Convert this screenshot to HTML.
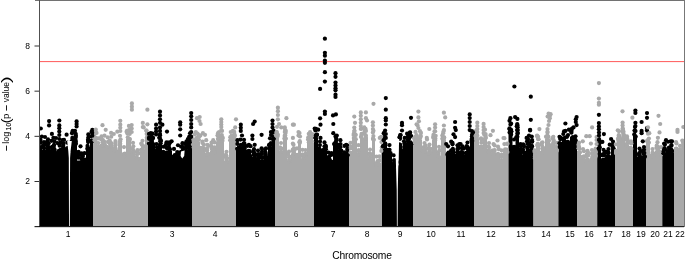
<!DOCTYPE html>
<html><head><meta charset="utf-8"><style>
html,body{margin:0;padding:0;background:#fff;}
body{width:685px;height:259px;overflow:hidden;position:relative;-webkit-font-smoothing:antialiased;font-family:"Liberation Sans",sans-serif;color:#000;}
svg{position:absolute;left:0;top:0;}
.xl{position:absolute;will-change:transform;top:229px;width:40px;text-align:center;font-size:8.5px;line-height:10px;}
.yl{position:absolute;will-change:transform;left:10px;width:20px;text-align:right;font-size:8.5px;line-height:10px;}
.xt{position:absolute;will-change:transform;left:0;width:724px;text-align:center;top:249.6px;font-size:10.3px;letter-spacing:-0.25px;line-height:12px;}
.yt{position:absolute;left:6px;top:112px;transform:translate(-50%,-50%) rotate(-90deg);white-space:nowrap;font-size:9px;line-height:10px;}
.yt sub{font-size:6.5px;vertical-align:-2px;line-height:0;}
</style></head><body>
<svg width="685" height="259" viewBox="0 0 685 259">
<line x1="40" y1="61.6" x2="684" y2="61.6" stroke="#ff5a5a" stroke-width="1"/>
<defs><clipPath id="c"><rect x="39.5" y="0.5" width="644.5" height="226"/></clipPath></defs>
<g clip-path="url(#c)"><polygon points="39,226.4 39,148.5 42,148.5 42,150.5 46,150.5 46,147.5 50,147.5 50,149.5 56,149.5 56,151.5 62,151.5 62,148.5 66,148.5 66,151.5 68.5,151.5 68.5,152.5 70.5,152.5 70.5,140.5 74.5,140.5 74.5,143.5 77,143.5 77,160.5 80,160.5 80,161.5 86,161.5 86,148.5 90,148.5 90,140.5 93,140.5 93,226.4" fill="#000"/><polygon points="93,226.4 93,140.5 97,140.5 97,147.1 100,147.1 100,144.5 106,144.5 106,145.5 113,145.5 113,149.5 118,149.5 118,144.5 122,144.5 122,155.5 126,155.5 126,138.5 131,138.5 131,151.0 135,151.0 135,158.5 140,158.5 140,149.5 145,149.5 145,139.5 148,139.5 148,226.4" fill="#a9a9a9"/><polygon points="148,226.4 148,142.5 150,142.5 150,142.5 155,142.5 155,152.5 158,152.5 158,143.5 162,143.5 162,155.5 165,155.5 165,151.0 168,151.0 168,151.0 172,151.0 172,157.5 176,157.5 176,153.5 180,153.5 180,151.5 185,151.5 185,149.5 188,149.5 188,141.5 192,141.5 192,226.4" fill="#000"/><polygon points="192,226.4 192,147.9 195,147.9 195,141.7 200,141.7 200,149.5 205,149.5 205,153.3 210,153.3 210,151.0 216,151.0 216,141.5 220,141.5 220,139.5 224,139.5 224,160.5 229,160.5 229,140.5 236,140.5 236,226.4" fill="#a9a9a9"/><polygon points="236,226.4 236,148.5 242,148.5 242,148.5 246,148.5 246,154.5 252,154.5 252,157.1 256,157.1 256,158.7 260,158.7 260,160.2 264,160.2 264,157.1 268,157.1 268,147.1 272,147.1 272,138.5 275,138.5 275,226.4" fill="#000"/><polygon points="275,226.4 275,135.5 279,135.5 279,151.0 283,151.0 283,138.5 287,138.5 287,160.2 291,160.2 291,153.3 296,153.3 296,157.1 298,157.1 298,141.7 301,141.7 301,158.7 307,158.7 307,142.5 314,142.5 314,226.4" fill="#a9a9a9"/><polygon points="314,226.4 314,137.5 318,137.5 318,149.5 322,149.5 322,151.0 327,151.0 327,161.0 333,161.0 333,144.8 338,144.8 338,152.5 343,152.5 343,154.0 349,154.0 349,226.4" fill="#000"/><polygon points="349,226.4 349,151.5 352,151.5 352,139.5 357,139.5 357,153.5 360,153.5 360,136.5 363,136.5 363,137.5 368,137.5 368,158.5 372,158.5 372,139.5 375,139.5 375,164.9 381,164.9 381,150.5 382,150.5 382,226.4" fill="#a9a9a9"/><polygon points="382,226.4 382,145.5 387,145.5 387,153.3 392,153.3 392,163.3 395.5,163.3 395.5,170.5 398.5,170.5 398.5,143.5 402,143.5 402,149.5 406,149.5 406,144.8 413,144.8 413,226.4" fill="#000"/><polygon points="413,226.4 413,140.5 418,140.5 418,140.1 422,140.1 422,151.0 427,151.0 427,152.5 432,152.5 432,139.5 437,139.5 437,155.5 441,155.5 441,139.5 446,139.5 446,226.4" fill="#a9a9a9"/><polygon points="446,226.4 446,154.8 450,154.8 450,152.5 455,152.5 455,154.0 460,154.0 460,154.5 465,154.5 465,151.0 470,151.0 470,139.5 474,139.5 474,226.4" fill="#000"/><polygon points="474,226.4 474,138.5 479,138.5 479,146.3 483,146.3 483,138.5 487,138.5 487,151.0 491,151.0 491,152.5 496,152.5 496,155.5 500,155.5 500,158.5 503,158.5 503,152.5 508.5,152.5 508.5,226.4" fill="#a9a9a9"/><polygon points="508.5,226.4 508.5,132.5 512.5,132.5 512.5,147.5 515.5,147.5 515.5,132.5 519,132.5 519,152.5 522,152.5 522,154.5 526,154.5 526,148.5 530,148.5 530,145.5 533.5,145.5 533.5,226.4" fill="#000"/><polygon points="533.5,226.4 533.5,158.5 536,158.5 536,144.8 540,144.8 540,151.0 545,151.0 545,140.1 550,140.1 550,146.3 555,146.3 555,151.0 558.4,151.0 558.4,226.4" fill="#a9a9a9"/><polygon points="558.4,226.4 558.4,147.9 562,147.9 562,140.1 566,140.1 566,143.2 570,143.2 570,137.0 574,137.0 574,144.8 577,144.8 577,226.4" fill="#000"/><polygon points="577,226.4 577,151.0 581,151.0 581,157.1 585,157.1 585,159.5 590,159.5 590,158.7 594,158.7 594,157.1 597.2,157.1 597.2,226.4" fill="#a9a9a9"/><polygon points="597.2,226.4 597.2,147.9 601,147.9 601,158.5 606,158.5 606,157.1 611,157.1 611,150.5 615,150.5 615,226.4" fill="#000"/><polygon points="615,226.4 615,152.5 617,152.5 617,140.1 621,140.1 621,137.5 625,137.5 625,144.8 629,144.8 629,149.5 633,149.5 633,226.4" fill="#a9a9a9"/><polygon points="633,226.4 633,135.5 637,135.5 637,157.1 642,157.1 642,155.5 646,155.5 646,226.4" fill="#000"/><polygon points="646,226.4 646,141.7 650,141.7 650,157.1 655,157.1 655,151.0 660,151.0 660,155.5 662.3,155.5 662.3,226.4" fill="#a9a9a9"/><polygon points="662.3,226.4 662.3,152.5 666,152.5 666,150.2 674,150.2 674,226.4" fill="#000"/><polygon points="674,226.4 674,151.0 678,151.0 678,154.0 682,154.0 682,151.0 684,151.0 684,226.4" fill="#a9a9a9"/><circle cx="40.5" cy="139.92" r="2.1" fill="#000"/><circle cx="40.15" cy="147.96" r="2.1" fill="#000"/><circle cx="40.07" cy="147.19" r="2.1" fill="#000"/><circle cx="40.37" cy="142.63" r="2.1" fill="#000"/><circle cx="40.51" cy="142.25" r="2.1" fill="#000"/><circle cx="44.0" cy="142.03" r="2.1" fill="#000"/><circle cx="43.14" cy="145.13" r="2.1" fill="#000"/><circle cx="43.85" cy="151.03" r="2.1" fill="#000"/><circle cx="43.25" cy="146.66" r="2.1" fill="#000"/><circle cx="44.25" cy="151.71" r="2.1" fill="#000"/><circle cx="44.15" cy="148.17" r="2.1" fill="#000"/><circle cx="44.95" cy="144.43" r="2.1" fill="#000"/><circle cx="48.0" cy="139.46" r="2.1" fill="#000"/><circle cx="47.58" cy="142.82" r="2.1" fill="#000"/><circle cx="47.24" cy="144.44" r="2.1" fill="#000"/><circle cx="48.63" cy="143.22" r="2.1" fill="#000"/><circle cx="48.16" cy="146.88" r="2.1" fill="#000"/><circle cx="47.74" cy="146.27" r="2.1" fill="#000"/><circle cx="47.13" cy="141.66" r="2.1" fill="#000"/><circle cx="51.5" cy="140.81" r="2.1" fill="#000"/><circle cx="54.5" cy="141.28" r="2.1" fill="#000"/><circle cx="52.71" cy="146.49" r="2.1" fill="#000"/><circle cx="53.34" cy="147.6" r="2.1" fill="#000"/><circle cx="52.2" cy="149.84" r="2.1" fill="#000"/><circle cx="53.8" cy="145.86" r="2.1" fill="#000"/><circle cx="53.3" cy="148.12" r="2.1" fill="#000"/><circle cx="54.5" cy="149.45" r="2.1" fill="#000"/><circle cx="52.15" cy="150.89" r="2.1" fill="#000"/><circle cx="51.47" cy="147.33" r="2.1" fill="#000"/><circle cx="54.03" cy="144.91" r="2.1" fill="#000"/><circle cx="57.5" cy="143.09" r="2.1" fill="#000"/><circle cx="60.5" cy="142.64" r="2.1" fill="#000"/><circle cx="59.67" cy="151.66" r="2.1" fill="#000"/><circle cx="59.29" cy="152.31" r="2.1" fill="#000"/><circle cx="58.25" cy="151.24" r="2.1" fill="#000"/><circle cx="59.38" cy="150.49" r="2.1" fill="#000"/><circle cx="58.82" cy="152.11" r="2.1" fill="#000"/><circle cx="60.78" cy="149.75" r="2.1" fill="#000"/><circle cx="59.66" cy="145.68" r="2.1" fill="#000"/><circle cx="59.81" cy="150.93" r="2.1" fill="#000"/><circle cx="60.97" cy="152.0" r="2.1" fill="#000"/><circle cx="64.0" cy="139.88" r="2.1" fill="#000"/><circle cx="63.77" cy="148.07" r="2.1" fill="#000"/><circle cx="63.05" cy="146.66" r="2.1" fill="#000"/><circle cx="63.34" cy="143.49" r="2.1" fill="#000"/><circle cx="63.12" cy="148.68" r="2.1" fill="#000"/><circle cx="63.26" cy="144.9" r="2.1" fill="#000"/><circle cx="63.78" cy="149.29" r="2.1" fill="#000"/><circle cx="67.25" cy="142.68" r="2.1" fill="#000"/><circle cx="67.22" cy="150.28" r="2.1" fill="#000"/><circle cx="67.44" cy="151.99" r="2.1" fill="#000"/><circle cx="67.43" cy="148.18" r="2.1" fill="#000"/><circle cx="67.21" cy="148.87" r="2.1" fill="#000"/><circle cx="69.5" cy="144.48" r="2.1" fill="#000"/><circle cx="69.5" cy="147.89" r="2.1" fill="#000"/><circle cx="69.5" cy="148.75" r="2.1" fill="#000"/><circle cx="69.5" cy="150.83" r="2.1" fill="#000"/><circle cx="72.5" cy="132.19" r="2.1" fill="#000"/><circle cx="72.03" cy="133.33" r="2.1" fill="#000"/><circle cx="72.34" cy="137.95" r="2.1" fill="#000"/><circle cx="72.63" cy="141.74" r="2.1" fill="#000"/><circle cx="72.88" cy="139.05" r="2.1" fill="#000"/><circle cx="72.74" cy="140.12" r="2.1" fill="#000"/><circle cx="71.61" cy="141.45" r="2.1" fill="#000"/><circle cx="75.75" cy="135.38" r="2.1" fill="#000"/><circle cx="75.94" cy="143.86" r="2.1" fill="#000"/><circle cx="75.7" cy="141.19" r="2.1" fill="#000"/><circle cx="75.55" cy="142.85" r="2.1" fill="#000"/><circle cx="75.53" cy="137.78" r="2.1" fill="#000"/><circle cx="78.5" cy="151.81" r="2.1" fill="#000"/><circle cx="78.16" cy="157.71" r="2.1" fill="#000"/><circle cx="78.05" cy="153.06" r="2.1" fill="#000"/><circle cx="78.15" cy="155.28" r="2.1" fill="#000"/><circle cx="78.36" cy="154.0" r="2.1" fill="#000"/><circle cx="81.5" cy="153.47" r="2.1" fill="#000"/><circle cx="84.5" cy="153.21" r="2.1" fill="#000"/><circle cx="81.59" cy="157.94" r="2.1" fill="#000"/><circle cx="82.39" cy="158.91" r="2.1" fill="#000"/><circle cx="81.49" cy="162.16" r="2.1" fill="#000"/><circle cx="84.97" cy="159.69" r="2.1" fill="#000"/><circle cx="82.94" cy="156.06" r="2.1" fill="#000"/><circle cx="81.41" cy="158.73" r="2.1" fill="#000"/><circle cx="82.06" cy="162.04" r="2.1" fill="#000"/><circle cx="81.65" cy="154.94" r="2.1" fill="#000"/><circle cx="84.8" cy="160.14" r="2.1" fill="#000"/><circle cx="88.0" cy="139.75" r="2.1" fill="#000"/><circle cx="88.09" cy="142.03" r="2.1" fill="#000"/><circle cx="88.06" cy="149.88" r="2.1" fill="#000"/><circle cx="88.73" cy="148.24" r="2.1" fill="#000"/><circle cx="87.52" cy="145.93" r="2.1" fill="#000"/><circle cx="87.33" cy="148.71" r="2.1" fill="#000"/><circle cx="88.07" cy="148.75" r="2.1" fill="#000"/><circle cx="91.5" cy="131.93" r="2.1" fill="#000"/><circle cx="91.22" cy="140.94" r="2.1" fill="#000"/><circle cx="91.98" cy="141.18" r="2.1" fill="#000"/><circle cx="91.81" cy="140.98" r="2.1" fill="#000"/><circle cx="91.74" cy="136.69" r="2.1" fill="#000"/><circle cx="95.0" cy="132.12" r="2.1" fill="#a9a9a9"/><circle cx="94.71" cy="134.08" r="2.1" fill="#a9a9a9"/><circle cx="94.06" cy="137.19" r="2.1" fill="#a9a9a9"/><circle cx="94.52" cy="140.22" r="2.1" fill="#a9a9a9"/><circle cx="95.91" cy="138.55" r="2.1" fill="#a9a9a9"/><circle cx="95.87" cy="141.94" r="2.1" fill="#a9a9a9"/><circle cx="95.91" cy="137.91" r="2.1" fill="#a9a9a9"/><circle cx="98.5" cy="138.42" r="2.1" fill="#a9a9a9"/><circle cx="98.23" cy="142.99" r="2.1" fill="#a9a9a9"/><circle cx="98.2" cy="146.38" r="2.1" fill="#a9a9a9"/><circle cx="98.9" cy="147.71" r="2.1" fill="#a9a9a9"/><circle cx="98.48" cy="146.57" r="2.1" fill="#a9a9a9"/><circle cx="101.5" cy="136.4" r="2.1" fill="#a9a9a9"/><circle cx="104.5" cy="135.68" r="2.1" fill="#a9a9a9"/><circle cx="103.64" cy="145.5" r="2.1" fill="#a9a9a9"/><circle cx="104.13" cy="144.57" r="2.1" fill="#a9a9a9"/><circle cx="102.91" cy="140.2" r="2.1" fill="#a9a9a9"/><circle cx="104.16" cy="141.65" r="2.1" fill="#a9a9a9"/><circle cx="104.2" cy="145.85" r="2.1" fill="#a9a9a9"/><circle cx="102.58" cy="142.2" r="2.1" fill="#a9a9a9"/><circle cx="104.79" cy="144.42" r="2.1" fill="#a9a9a9"/><circle cx="101.68" cy="139.61" r="2.1" fill="#a9a9a9"/><circle cx="101.6" cy="145.48" r="2.1" fill="#a9a9a9"/><circle cx="107.75" cy="137.41" r="2.1" fill="#a9a9a9"/><circle cx="111.25" cy="136.75" r="2.1" fill="#a9a9a9"/><circle cx="111.13" cy="146.89" r="2.1" fill="#a9a9a9"/><circle cx="110.29" cy="142.8" r="2.1" fill="#a9a9a9"/><circle cx="109.74" cy="140.66" r="2.1" fill="#a9a9a9"/><circle cx="107.07" cy="146.84" r="2.1" fill="#a9a9a9"/><circle cx="110.25" cy="144.13" r="2.1" fill="#a9a9a9"/><circle cx="111.67" cy="143.45" r="2.1" fill="#a9a9a9"/><circle cx="111.36" cy="146.03" r="2.1" fill="#a9a9a9"/><circle cx="108.06" cy="141.93" r="2.1" fill="#a9a9a9"/><circle cx="108.46" cy="141.83" r="2.1" fill="#a9a9a9"/><circle cx="109.93" cy="142.0" r="2.1" fill="#a9a9a9"/><circle cx="115.5" cy="141.02" r="2.1" fill="#a9a9a9"/><circle cx="114.39" cy="150.5" r="2.1" fill="#a9a9a9"/><circle cx="115.06" cy="147.63" r="2.1" fill="#a9a9a9"/><circle cx="115.75" cy="150.47" r="2.1" fill="#a9a9a9"/><circle cx="115.26" cy="150.55" r="2.1" fill="#a9a9a9"/><circle cx="115.5" cy="148.16" r="2.1" fill="#a9a9a9"/><circle cx="115.57" cy="142.83" r="2.1" fill="#a9a9a9"/><circle cx="115.32" cy="145.25" r="2.1" fill="#a9a9a9"/><circle cx="114.01" cy="149.87" r="2.1" fill="#a9a9a9"/><circle cx="120.0" cy="135.77" r="2.1" fill="#a9a9a9"/><circle cx="119.95" cy="144.42" r="2.1" fill="#a9a9a9"/><circle cx="120.11" cy="141.59" r="2.1" fill="#a9a9a9"/><circle cx="120.04" cy="143.32" r="2.1" fill="#a9a9a9"/><circle cx="120.57" cy="139.34" r="2.1" fill="#a9a9a9"/><circle cx="120.12" cy="140.9" r="2.1" fill="#a9a9a9"/><circle cx="119.55" cy="144.71" r="2.1" fill="#a9a9a9"/><circle cx="124.0" cy="147.11" r="2.1" fill="#a9a9a9"/><circle cx="124.12" cy="155.63" r="2.1" fill="#a9a9a9"/><circle cx="124.82" cy="153.52" r="2.1" fill="#a9a9a9"/><circle cx="124.23" cy="153.98" r="2.1" fill="#a9a9a9"/><circle cx="124.02" cy="155.22" r="2.1" fill="#a9a9a9"/><circle cx="123.9" cy="154.17" r="2.1" fill="#a9a9a9"/><circle cx="123.96" cy="156.68" r="2.1" fill="#a9a9a9"/><circle cx="128.5" cy="130.3" r="2.1" fill="#a9a9a9"/><circle cx="129.63" cy="139.68" r="2.1" fill="#a9a9a9"/><circle cx="127.78" cy="137.35" r="2.1" fill="#a9a9a9"/><circle cx="129.83" cy="139.11" r="2.1" fill="#a9a9a9"/><circle cx="127.41" cy="133.54" r="2.1" fill="#a9a9a9"/><circle cx="128.33" cy="132.86" r="2.1" fill="#a9a9a9"/><circle cx="127.72" cy="132.87" r="2.1" fill="#a9a9a9"/><circle cx="129.01" cy="138.78" r="2.1" fill="#a9a9a9"/><circle cx="129.69" cy="133.93" r="2.1" fill="#a9a9a9"/><circle cx="133.0" cy="142.82" r="2.1" fill="#a9a9a9"/><circle cx="133.32" cy="146.3" r="2.1" fill="#a9a9a9"/><circle cx="133.77" cy="152.32" r="2.1" fill="#a9a9a9"/><circle cx="132.44" cy="152.24" r="2.1" fill="#a9a9a9"/><circle cx="132.8" cy="149.35" r="2.1" fill="#a9a9a9"/><circle cx="133.98" cy="151.56" r="2.1" fill="#a9a9a9"/><circle cx="132.32" cy="148.94" r="2.1" fill="#a9a9a9"/><circle cx="137.5" cy="150.12" r="2.1" fill="#a9a9a9"/><circle cx="137.02" cy="154.38" r="2.1" fill="#a9a9a9"/><circle cx="136.96" cy="158.4" r="2.1" fill="#a9a9a9"/><circle cx="136.06" cy="157.31" r="2.1" fill="#a9a9a9"/><circle cx="137.32" cy="151.81" r="2.1" fill="#a9a9a9"/><circle cx="136.99" cy="157.78" r="2.1" fill="#a9a9a9"/><circle cx="137.54" cy="152.73" r="2.1" fill="#a9a9a9"/><circle cx="138.96" cy="158.8" r="2.1" fill="#a9a9a9"/><circle cx="138.92" cy="153.32" r="2.1" fill="#a9a9a9"/><circle cx="142.5" cy="140.87" r="2.1" fill="#a9a9a9"/><circle cx="141.12" cy="149.75" r="2.1" fill="#a9a9a9"/><circle cx="141.81" cy="144.64" r="2.1" fill="#a9a9a9"/><circle cx="142.27" cy="150.51" r="2.1" fill="#a9a9a9"/><circle cx="143.46" cy="146.0" r="2.1" fill="#a9a9a9"/><circle cx="141.45" cy="150.56" r="2.1" fill="#a9a9a9"/><circle cx="142.71" cy="149.27" r="2.1" fill="#a9a9a9"/><circle cx="141.27" cy="143.62" r="2.1" fill="#a9a9a9"/><circle cx="143.06" cy="147.39" r="2.1" fill="#a9a9a9"/><circle cx="146.5" cy="130.67" r="2.1" fill="#a9a9a9"/><circle cx="146.94" cy="138.85" r="2.1" fill="#a9a9a9"/><circle cx="146.8" cy="134.03" r="2.1" fill="#a9a9a9"/><circle cx="146.86" cy="133.77" r="2.1" fill="#a9a9a9"/><circle cx="146.86" cy="137.6" r="2.1" fill="#a9a9a9"/><circle cx="149.0" cy="133.94" r="2.1" fill="#000"/><circle cx="149.0" cy="143.6" r="2.1" fill="#000"/><circle cx="149.0" cy="137.64" r="2.1" fill="#000"/><circle cx="149.0" cy="138.81" r="2.1" fill="#000"/><circle cx="152.5" cy="133.71" r="2.1" fill="#000"/><circle cx="151.48" cy="136.5" r="2.1" fill="#000"/><circle cx="151.61" cy="139.47" r="2.1" fill="#000"/><circle cx="151.92" cy="142.63" r="2.1" fill="#000"/><circle cx="151.87" cy="140.94" r="2.1" fill="#000"/><circle cx="151.53" cy="139.77" r="2.1" fill="#000"/><circle cx="151.05" cy="138.92" r="2.1" fill="#000"/><circle cx="151.05" cy="142.47" r="2.1" fill="#000"/><circle cx="152.65" cy="138.32" r="2.1" fill="#000"/><circle cx="156.5" cy="144.07" r="2.1" fill="#000"/><circle cx="156.93" cy="147.34" r="2.1" fill="#000"/><circle cx="156.82" cy="150.44" r="2.1" fill="#000"/><circle cx="156.5" cy="153.07" r="2.1" fill="#000"/><circle cx="156.39" cy="150.99" r="2.1" fill="#000"/><circle cx="160.0" cy="135.29" r="2.1" fill="#000"/><circle cx="160.96" cy="140.73" r="2.1" fill="#000"/><circle cx="160.66" cy="143.31" r="2.1" fill="#000"/><circle cx="160.27" cy="141.23" r="2.1" fill="#000"/><circle cx="159.7" cy="137.57" r="2.1" fill="#000"/><circle cx="159.26" cy="137.84" r="2.1" fill="#000"/><circle cx="160.48" cy="139.97" r="2.1" fill="#000"/><circle cx="163.5" cy="146.76" r="2.1" fill="#000"/><circle cx="163.08" cy="156.11" r="2.1" fill="#000"/><circle cx="163.87" cy="155.08" r="2.1" fill="#000"/><circle cx="163.28" cy="151.84" r="2.1" fill="#000"/><circle cx="163.29" cy="153.64" r="2.1" fill="#000"/><circle cx="166.5" cy="142.26" r="2.1" fill="#000"/><circle cx="166.45" cy="147.54" r="2.1" fill="#000"/><circle cx="166.96" cy="152.35" r="2.1" fill="#000"/><circle cx="166.55" cy="147.37" r="2.1" fill="#000"/><circle cx="166.97" cy="147.95" r="2.1" fill="#000"/><circle cx="170.0" cy="142.46" r="2.1" fill="#000"/><circle cx="169.0" cy="148.55" r="2.1" fill="#000"/><circle cx="169.95" cy="149.46" r="2.1" fill="#000"/><circle cx="169.4" cy="149.47" r="2.1" fill="#000"/><circle cx="169.01" cy="147.55" r="2.1" fill="#000"/><circle cx="169.18" cy="148.69" r="2.1" fill="#000"/><circle cx="169.08" cy="144.42" r="2.1" fill="#000"/><circle cx="174.0" cy="148.9" r="2.1" fill="#000"/><circle cx="173.47" cy="156.53" r="2.1" fill="#000"/><circle cx="174.06" cy="157.58" r="2.1" fill="#000"/><circle cx="174.32" cy="157.37" r="2.1" fill="#000"/><circle cx="174.76" cy="155.11" r="2.1" fill="#000"/><circle cx="173.65" cy="158.92" r="2.1" fill="#000"/><circle cx="173.3" cy="157.42" r="2.1" fill="#000"/><circle cx="178.0" cy="145.24" r="2.1" fill="#000"/><circle cx="177.09" cy="154.08" r="2.1" fill="#000"/><circle cx="178.78" cy="152.8" r="2.1" fill="#000"/><circle cx="178.47" cy="153.94" r="2.1" fill="#000"/><circle cx="177.28" cy="152.11" r="2.1" fill="#000"/><circle cx="178.01" cy="154.08" r="2.1" fill="#000"/><circle cx="178.61" cy="154.03" r="2.1" fill="#000"/><circle cx="182.5" cy="143.18" r="2.1" fill="#000"/><circle cx="183.68" cy="151.16" r="2.1" fill="#000"/><circle cx="183.08" cy="147.73" r="2.1" fill="#000"/><circle cx="181.09" cy="146.68" r="2.1" fill="#000"/><circle cx="182.08" cy="146.33" r="2.1" fill="#000"/><circle cx="183.51" cy="150.35" r="2.1" fill="#000"/><circle cx="182.88" cy="150.8" r="2.1" fill="#000"/><circle cx="183.04" cy="149.86" r="2.1" fill="#000"/><circle cx="181.01" cy="151.86" r="2.1" fill="#000"/><circle cx="186.5" cy="141.35" r="2.1" fill="#000"/><circle cx="186.5" cy="148.19" r="2.1" fill="#000"/><circle cx="186.66" cy="143.76" r="2.1" fill="#000"/><circle cx="186.74" cy="145.94" r="2.1" fill="#000"/><circle cx="186.07" cy="146.06" r="2.1" fill="#000"/><circle cx="190.0" cy="133.33" r="2.1" fill="#000"/><circle cx="189.41" cy="141.51" r="2.1" fill="#000"/><circle cx="190.95" cy="139.89" r="2.1" fill="#000"/><circle cx="189.77" cy="139.79" r="2.1" fill="#000"/><circle cx="190.37" cy="141.68" r="2.1" fill="#000"/><circle cx="190.23" cy="140.9" r="2.1" fill="#000"/><circle cx="189.15" cy="136.85" r="2.1" fill="#000"/><circle cx="193.5" cy="139.25" r="2.1" fill="#a9a9a9"/><circle cx="193.74" cy="144.81" r="2.1" fill="#a9a9a9"/><circle cx="193.57" cy="141.05" r="2.1" fill="#a9a9a9"/><circle cx="193.06" cy="144.49" r="2.1" fill="#a9a9a9"/><circle cx="193.67" cy="147.62" r="2.1" fill="#a9a9a9"/><circle cx="197.5" cy="133.48" r="2.1" fill="#a9a9a9"/><circle cx="196.87" cy="140.25" r="2.1" fill="#a9a9a9"/><circle cx="197.39" cy="139.89" r="2.1" fill="#a9a9a9"/><circle cx="196.36" cy="142.61" r="2.1" fill="#a9a9a9"/><circle cx="196.6" cy="143.08" r="2.1" fill="#a9a9a9"/><circle cx="198.81" cy="134.99" r="2.1" fill="#a9a9a9"/><circle cx="197.38" cy="142.19" r="2.1" fill="#a9a9a9"/><circle cx="198.9" cy="139.77" r="2.1" fill="#a9a9a9"/><circle cx="196.81" cy="137.73" r="2.1" fill="#a9a9a9"/><circle cx="202.5" cy="141.55" r="2.1" fill="#a9a9a9"/><circle cx="201.63" cy="148.5" r="2.1" fill="#a9a9a9"/><circle cx="201.43" cy="148.11" r="2.1" fill="#a9a9a9"/><circle cx="203.86" cy="144.68" r="2.1" fill="#a9a9a9"/><circle cx="203.46" cy="148.0" r="2.1" fill="#a9a9a9"/><circle cx="203.66" cy="149.29" r="2.1" fill="#a9a9a9"/><circle cx="201.69" cy="150.44" r="2.1" fill="#a9a9a9"/><circle cx="202.46" cy="142.98" r="2.1" fill="#a9a9a9"/><circle cx="201.01" cy="147.88" r="2.1" fill="#a9a9a9"/><circle cx="207.5" cy="144.85" r="2.1" fill="#a9a9a9"/><circle cx="206.91" cy="148.57" r="2.1" fill="#a9a9a9"/><circle cx="207.03" cy="150.31" r="2.1" fill="#a9a9a9"/><circle cx="208.52" cy="146.0" r="2.1" fill="#a9a9a9"/><circle cx="208.25" cy="153.9" r="2.1" fill="#a9a9a9"/><circle cx="206.36" cy="154.4" r="2.1" fill="#a9a9a9"/><circle cx="208.14" cy="154.26" r="2.1" fill="#a9a9a9"/><circle cx="206.87" cy="150.77" r="2.1" fill="#a9a9a9"/><circle cx="207.18" cy="154.79" r="2.1" fill="#a9a9a9"/><circle cx="211.5" cy="142.69" r="2.1" fill="#a9a9a9"/><circle cx="214.5" cy="142.46" r="2.1" fill="#a9a9a9"/><circle cx="212.71" cy="147.65" r="2.1" fill="#a9a9a9"/><circle cx="211.19" cy="145.78" r="2.1" fill="#a9a9a9"/><circle cx="214.34" cy="147.74" r="2.1" fill="#a9a9a9"/><circle cx="214.74" cy="147.41" r="2.1" fill="#a9a9a9"/><circle cx="212.06" cy="149.52" r="2.1" fill="#a9a9a9"/><circle cx="211.76" cy="148.48" r="2.1" fill="#a9a9a9"/><circle cx="214.82" cy="151.86" r="2.1" fill="#a9a9a9"/><circle cx="214.25" cy="150.33" r="2.1" fill="#a9a9a9"/><circle cx="214.65" cy="152.18" r="2.1" fill="#a9a9a9"/><circle cx="218.0" cy="133.15" r="2.1" fill="#a9a9a9"/><circle cx="218.44" cy="135.48" r="2.1" fill="#a9a9a9"/><circle cx="218.46" cy="139.58" r="2.1" fill="#a9a9a9"/><circle cx="218.51" cy="140.91" r="2.1" fill="#a9a9a9"/><circle cx="217.57" cy="135.47" r="2.1" fill="#a9a9a9"/><circle cx="218.85" cy="136.61" r="2.1" fill="#a9a9a9"/><circle cx="217.94" cy="138.74" r="2.1" fill="#a9a9a9"/><circle cx="222.0" cy="130.9" r="2.1" fill="#a9a9a9"/><circle cx="222.48" cy="140.87" r="2.1" fill="#a9a9a9"/><circle cx="221.52" cy="138.99" r="2.1" fill="#a9a9a9"/><circle cx="221.6" cy="138.34" r="2.1" fill="#a9a9a9"/><circle cx="221.79" cy="135.08" r="2.1" fill="#a9a9a9"/><circle cx="221.32" cy="135.51" r="2.1" fill="#a9a9a9"/><circle cx="222.81" cy="137.92" r="2.1" fill="#a9a9a9"/><circle cx="226.5" cy="151.82" r="2.1" fill="#a9a9a9"/><circle cx="227.72" cy="161.98" r="2.1" fill="#a9a9a9"/><circle cx="226.35" cy="155.76" r="2.1" fill="#a9a9a9"/><circle cx="225.58" cy="155.13" r="2.1" fill="#a9a9a9"/><circle cx="226.03" cy="155.14" r="2.1" fill="#a9a9a9"/><circle cx="225.72" cy="157.0" r="2.1" fill="#a9a9a9"/><circle cx="226.71" cy="161.38" r="2.1" fill="#a9a9a9"/><circle cx="227.25" cy="158.29" r="2.1" fill="#a9a9a9"/><circle cx="226.24" cy="159.11" r="2.1" fill="#a9a9a9"/><circle cx="230.75" cy="131.98" r="2.1" fill="#a9a9a9"/><circle cx="234.25" cy="131.94" r="2.1" fill="#a9a9a9"/><circle cx="230.31" cy="137.17" r="2.1" fill="#a9a9a9"/><circle cx="234.84" cy="135.6" r="2.1" fill="#a9a9a9"/><circle cx="232.52" cy="139.82" r="2.1" fill="#a9a9a9"/><circle cx="234.31" cy="136.59" r="2.1" fill="#a9a9a9"/><circle cx="231.36" cy="136.9" r="2.1" fill="#a9a9a9"/><circle cx="232.0" cy="138.54" r="2.1" fill="#a9a9a9"/><circle cx="234.77" cy="141.16" r="2.1" fill="#a9a9a9"/><circle cx="234.36" cy="133.91" r="2.1" fill="#a9a9a9"/><circle cx="230.16" cy="140.33" r="2.1" fill="#a9a9a9"/><circle cx="234.48" cy="138.75" r="2.1" fill="#a9a9a9"/><circle cx="237.5" cy="140.19" r="2.1" fill="#000"/><circle cx="240.5" cy="139.6" r="2.1" fill="#000"/><circle cx="238.57" cy="149.6" r="2.1" fill="#000"/><circle cx="240.3" cy="149.2" r="2.1" fill="#000"/><circle cx="240.89" cy="144.9" r="2.1" fill="#000"/><circle cx="237.44" cy="143.93" r="2.1" fill="#000"/><circle cx="239.09" cy="148.15" r="2.1" fill="#000"/><circle cx="240.77" cy="148.4" r="2.1" fill="#000"/><circle cx="239.59" cy="148.66" r="2.1" fill="#000"/><circle cx="238.83" cy="147.3" r="2.1" fill="#000"/><circle cx="237.16" cy="148.77" r="2.1" fill="#000"/><circle cx="244.0" cy="139.83" r="2.1" fill="#000"/><circle cx="244.84" cy="147.92" r="2.1" fill="#000"/><circle cx="243.61" cy="143.62" r="2.1" fill="#000"/><circle cx="243.5" cy="147.86" r="2.1" fill="#000"/><circle cx="244.4" cy="143.42" r="2.1" fill="#000"/><circle cx="243.14" cy="147.11" r="2.1" fill="#000"/><circle cx="244.17" cy="146.1" r="2.1" fill="#000"/><circle cx="247.5" cy="145.82" r="2.1" fill="#000"/><circle cx="250.5" cy="146.2" r="2.1" fill="#000"/><circle cx="247.04" cy="151.38" r="2.1" fill="#000"/><circle cx="248.84" cy="155.78" r="2.1" fill="#000"/><circle cx="249.58" cy="155.36" r="2.1" fill="#000"/><circle cx="248.9" cy="150.77" r="2.1" fill="#000"/><circle cx="247.99" cy="155.79" r="2.1" fill="#000"/><circle cx="249.82" cy="151.43" r="2.1" fill="#000"/><circle cx="247.09" cy="152.93" r="2.1" fill="#000"/><circle cx="249.7" cy="152.35" r="2.1" fill="#000"/><circle cx="248.03" cy="154.06" r="2.1" fill="#000"/><circle cx="254.0" cy="149.13" r="2.1" fill="#000"/><circle cx="253.45" cy="150.79" r="2.1" fill="#000"/><circle cx="253.68" cy="154.95" r="2.1" fill="#000"/><circle cx="254.37" cy="153.01" r="2.1" fill="#000"/><circle cx="254.59" cy="157.11" r="2.1" fill="#000"/><circle cx="254.01" cy="153.08" r="2.1" fill="#000"/><circle cx="254.94" cy="154.07" r="2.1" fill="#000"/><circle cx="258.0" cy="150.62" r="2.1" fill="#000"/><circle cx="257.46" cy="154.84" r="2.1" fill="#000"/><circle cx="258.52" cy="155.53" r="2.1" fill="#000"/><circle cx="258.9" cy="157.11" r="2.1" fill="#000"/><circle cx="257.37" cy="154.86" r="2.1" fill="#000"/><circle cx="257.83" cy="158.25" r="2.1" fill="#000"/><circle cx="258.9" cy="154.04" r="2.1" fill="#000"/><circle cx="262.0" cy="151.69" r="2.1" fill="#000"/><circle cx="261.43" cy="161.56" r="2.1" fill="#000"/><circle cx="261.28" cy="154.22" r="2.1" fill="#000"/><circle cx="261.12" cy="157.84" r="2.1" fill="#000"/><circle cx="262.8" cy="161.06" r="2.1" fill="#000"/><circle cx="262.47" cy="161.69" r="2.1" fill="#000"/><circle cx="262.86" cy="157.32" r="2.1" fill="#000"/><circle cx="266.0" cy="148.39" r="2.1" fill="#000"/><circle cx="266.87" cy="157.15" r="2.1" fill="#000"/><circle cx="265.06" cy="156.64" r="2.1" fill="#000"/><circle cx="265.76" cy="154.59" r="2.1" fill="#000"/><circle cx="265.66" cy="152.7" r="2.1" fill="#000"/><circle cx="265.01" cy="153.79" r="2.1" fill="#000"/><circle cx="265.7" cy="158.36" r="2.1" fill="#000"/><circle cx="270.0" cy="138.32" r="2.1" fill="#000"/><circle cx="270.93" cy="143.1" r="2.1" fill="#000"/><circle cx="269.71" cy="147.6" r="2.1" fill="#000"/><circle cx="270.64" cy="145.04" r="2.1" fill="#000"/><circle cx="269.1" cy="145.35" r="2.1" fill="#000"/><circle cx="269.75" cy="148.16" r="2.1" fill="#000"/><circle cx="269.39" cy="144.51" r="2.1" fill="#000"/><circle cx="273.5" cy="130.5" r="2.1" fill="#000"/><circle cx="273.03" cy="136.28" r="2.1" fill="#000"/><circle cx="273.81" cy="138.67" r="2.1" fill="#000"/><circle cx="273.04" cy="132.2" r="2.1" fill="#000"/><circle cx="273.06" cy="139.56" r="2.1" fill="#000"/><circle cx="277.0" cy="126.86" r="2.1" fill="#a9a9a9"/><circle cx="277.49" cy="136.44" r="2.1" fill="#a9a9a9"/><circle cx="276.68" cy="132.12" r="2.1" fill="#a9a9a9"/><circle cx="277.92" cy="134.74" r="2.1" fill="#a9a9a9"/><circle cx="276.52" cy="135.37" r="2.1" fill="#a9a9a9"/><circle cx="276.63" cy="132.15" r="2.1" fill="#a9a9a9"/><circle cx="276.01" cy="135.61" r="2.1" fill="#a9a9a9"/><circle cx="281.0" cy="143.02" r="2.1" fill="#a9a9a9"/><circle cx="281.27" cy="152.19" r="2.1" fill="#a9a9a9"/><circle cx="280.05" cy="147.26" r="2.1" fill="#a9a9a9"/><circle cx="280.95" cy="152.26" r="2.1" fill="#a9a9a9"/><circle cx="281.91" cy="148.59" r="2.1" fill="#a9a9a9"/><circle cx="280.5" cy="148.92" r="2.1" fill="#a9a9a9"/><circle cx="280.99" cy="152.11" r="2.1" fill="#a9a9a9"/><circle cx="285.0" cy="129.78" r="2.1" fill="#a9a9a9"/><circle cx="285.61" cy="138.5" r="2.1" fill="#a9a9a9"/><circle cx="285.65" cy="138.71" r="2.1" fill="#a9a9a9"/><circle cx="285.21" cy="135.61" r="2.1" fill="#a9a9a9"/><circle cx="284.64" cy="135.89" r="2.1" fill="#a9a9a9"/><circle cx="285.56" cy="132.96" r="2.1" fill="#a9a9a9"/><circle cx="284.39" cy="138.59" r="2.1" fill="#a9a9a9"/><circle cx="289.0" cy="151.55" r="2.1" fill="#a9a9a9"/><circle cx="288.13" cy="153.88" r="2.1" fill="#a9a9a9"/><circle cx="289.11" cy="157.29" r="2.1" fill="#a9a9a9"/><circle cx="289.96" cy="161.06" r="2.1" fill="#a9a9a9"/><circle cx="289.98" cy="156.76" r="2.1" fill="#a9a9a9"/><circle cx="288.17" cy="154.91" r="2.1" fill="#a9a9a9"/><circle cx="289.0" cy="160.03" r="2.1" fill="#a9a9a9"/><circle cx="293.5" cy="144.85" r="2.1" fill="#a9a9a9"/><circle cx="292.7" cy="151.12" r="2.1" fill="#a9a9a9"/><circle cx="293.86" cy="152.9" r="2.1" fill="#a9a9a9"/><circle cx="294.24" cy="153.95" r="2.1" fill="#a9a9a9"/><circle cx="293.99" cy="148.34" r="2.1" fill="#a9a9a9"/><circle cx="294.52" cy="150.12" r="2.1" fill="#a9a9a9"/><circle cx="293.7" cy="150.78" r="2.1" fill="#a9a9a9"/><circle cx="294.21" cy="149.22" r="2.1" fill="#a9a9a9"/><circle cx="292.74" cy="149.67" r="2.1" fill="#a9a9a9"/><circle cx="297.0" cy="148.35" r="2.1" fill="#a9a9a9"/><circle cx="297.0" cy="156.08" r="2.1" fill="#a9a9a9"/><circle cx="297.0" cy="154.76" r="2.1" fill="#a9a9a9"/><circle cx="297.0" cy="155.59" r="2.1" fill="#a9a9a9"/><circle cx="299.5" cy="133.03" r="2.1" fill="#a9a9a9"/><circle cx="299.81" cy="141.17" r="2.1" fill="#a9a9a9"/><circle cx="299.99" cy="136.49" r="2.1" fill="#a9a9a9"/><circle cx="299.47" cy="142.18" r="2.1" fill="#a9a9a9"/><circle cx="299.84" cy="142.73" r="2.1" fill="#a9a9a9"/><circle cx="302.5" cy="149.84" r="2.1" fill="#a9a9a9"/><circle cx="305.5" cy="150.09" r="2.1" fill="#a9a9a9"/><circle cx="302.48" cy="154.52" r="2.1" fill="#a9a9a9"/><circle cx="305.89" cy="157.71" r="2.1" fill="#a9a9a9"/><circle cx="305.72" cy="156.17" r="2.1" fill="#a9a9a9"/><circle cx="305.46" cy="156.77" r="2.1" fill="#a9a9a9"/><circle cx="303.04" cy="158.94" r="2.1" fill="#a9a9a9"/><circle cx="305.78" cy="153.54" r="2.1" fill="#a9a9a9"/><circle cx="304.38" cy="157.96" r="2.1" fill="#a9a9a9"/><circle cx="302.87" cy="156.15" r="2.1" fill="#a9a9a9"/><circle cx="302.57" cy="154.67" r="2.1" fill="#a9a9a9"/><circle cx="308.75" cy="133.85" r="2.1" fill="#a9a9a9"/><circle cx="312.25" cy="134.2" r="2.1" fill="#a9a9a9"/><circle cx="311.26" cy="138.46" r="2.1" fill="#a9a9a9"/><circle cx="308.06" cy="139.6" r="2.1" fill="#a9a9a9"/><circle cx="311.39" cy="138.27" r="2.1" fill="#a9a9a9"/><circle cx="309.56" cy="138.46" r="2.1" fill="#a9a9a9"/><circle cx="311.98" cy="141.27" r="2.1" fill="#a9a9a9"/><circle cx="308.32" cy="137.28" r="2.1" fill="#a9a9a9"/><circle cx="309.98" cy="141.29" r="2.1" fill="#a9a9a9"/><circle cx="311.2" cy="137.14" r="2.1" fill="#a9a9a9"/><circle cx="308.82" cy="142.24" r="2.1" fill="#a9a9a9"/><circle cx="310.05" cy="139.22" r="2.1" fill="#a9a9a9"/><circle cx="316.0" cy="128.91" r="2.1" fill="#000"/><circle cx="316.91" cy="134.48" r="2.1" fill="#000"/><circle cx="316.13" cy="134.85" r="2.1" fill="#000"/><circle cx="315.83" cy="138.25" r="2.1" fill="#000"/><circle cx="316.99" cy="134.91" r="2.1" fill="#000"/><circle cx="315.39" cy="137.44" r="2.1" fill="#000"/><circle cx="315.41" cy="130.41" r="2.1" fill="#000"/><circle cx="320.0" cy="141.5" r="2.1" fill="#000"/><circle cx="319.85" cy="149.99" r="2.1" fill="#000"/><circle cx="319.81" cy="150.35" r="2.1" fill="#000"/><circle cx="319.92" cy="145.03" r="2.1" fill="#000"/><circle cx="319.03" cy="148.3" r="2.1" fill="#000"/><circle cx="320.28" cy="150.5" r="2.1" fill="#000"/><circle cx="319.18" cy="148.77" r="2.1" fill="#000"/><circle cx="324.5" cy="142.47" r="2.1" fill="#000"/><circle cx="324.51" cy="146.34" r="2.1" fill="#000"/><circle cx="323.85" cy="149.59" r="2.1" fill="#000"/><circle cx="325.78" cy="145.88" r="2.1" fill="#000"/><circle cx="324.47" cy="151.4" r="2.1" fill="#000"/><circle cx="325.9" cy="146.9" r="2.1" fill="#000"/><circle cx="323.38" cy="152.19" r="2.1" fill="#000"/><circle cx="325.93" cy="149.31" r="2.1" fill="#000"/><circle cx="323.16" cy="152.1" r="2.1" fill="#000"/><circle cx="328.5" cy="152.49" r="2.1" fill="#000"/><circle cx="331.5" cy="153.0" r="2.1" fill="#000"/><circle cx="330.48" cy="161.52" r="2.1" fill="#000"/><circle cx="328.64" cy="161.29" r="2.1" fill="#000"/><circle cx="328.89" cy="158.73" r="2.1" fill="#000"/><circle cx="331.39" cy="161.54" r="2.1" fill="#000"/><circle cx="328.73" cy="157.11" r="2.1" fill="#000"/><circle cx="329.6" cy="159.56" r="2.1" fill="#000"/><circle cx="329.53" cy="156.06" r="2.1" fill="#000"/><circle cx="328.99" cy="160.92" r="2.1" fill="#000"/><circle cx="331.59" cy="154.83" r="2.1" fill="#000"/><circle cx="335.5" cy="136.46" r="2.1" fill="#000"/><circle cx="336.27" cy="138.57" r="2.1" fill="#000"/><circle cx="336.51" cy="139.79" r="2.1" fill="#000"/><circle cx="335.8" cy="143.59" r="2.1" fill="#000"/><circle cx="335.88" cy="141.72" r="2.1" fill="#000"/><circle cx="335.26" cy="143.81" r="2.1" fill="#000"/><circle cx="335.28" cy="144.31" r="2.1" fill="#000"/><circle cx="335.34" cy="142.79" r="2.1" fill="#000"/><circle cx="334.07" cy="144.05" r="2.1" fill="#000"/><circle cx="340.5" cy="144.09" r="2.1" fill="#000"/><circle cx="339.71" cy="152.66" r="2.1" fill="#000"/><circle cx="341.34" cy="150.64" r="2.1" fill="#000"/><circle cx="339.54" cy="150.74" r="2.1" fill="#000"/><circle cx="339.32" cy="147.63" r="2.1" fill="#000"/><circle cx="340.29" cy="147.15" r="2.1" fill="#000"/><circle cx="340.33" cy="151.01" r="2.1" fill="#000"/><circle cx="339.12" cy="151.86" r="2.1" fill="#000"/><circle cx="339.25" cy="152.47" r="2.1" fill="#000"/><circle cx="344.5" cy="145.88" r="2.1" fill="#000"/><circle cx="347.5" cy="145.61" r="2.1" fill="#000"/><circle cx="344.22" cy="152.47" r="2.1" fill="#000"/><circle cx="345.51" cy="155.23" r="2.1" fill="#000"/><circle cx="344.54" cy="154.7" r="2.1" fill="#000"/><circle cx="347.98" cy="153.96" r="2.1" fill="#000"/><circle cx="347.26" cy="149.86" r="2.1" fill="#000"/><circle cx="347.93" cy="152.38" r="2.1" fill="#000"/><circle cx="347.83" cy="155.04" r="2.1" fill="#000"/><circle cx="344.66" cy="154.3" r="2.1" fill="#000"/><circle cx="347.72" cy="148.25" r="2.1" fill="#000"/><circle cx="350.5" cy="142.95" r="2.1" fill="#a9a9a9"/><circle cx="350.76" cy="146.98" r="2.1" fill="#a9a9a9"/><circle cx="350.9" cy="148.15" r="2.1" fill="#a9a9a9"/><circle cx="350.82" cy="146.81" r="2.1" fill="#a9a9a9"/><circle cx="350.5" cy="152.56" r="2.1" fill="#a9a9a9"/><circle cx="354.5" cy="130.81" r="2.1" fill="#a9a9a9"/><circle cx="353.79" cy="137.98" r="2.1" fill="#a9a9a9"/><circle cx="353.96" cy="133.24" r="2.1" fill="#a9a9a9"/><circle cx="353.55" cy="135.01" r="2.1" fill="#a9a9a9"/><circle cx="355.81" cy="139.14" r="2.1" fill="#a9a9a9"/><circle cx="355.69" cy="135.09" r="2.1" fill="#a9a9a9"/><circle cx="355.35" cy="134.46" r="2.1" fill="#a9a9a9"/><circle cx="354.59" cy="138.86" r="2.1" fill="#a9a9a9"/><circle cx="354.08" cy="140.3" r="2.1" fill="#a9a9a9"/><circle cx="358.5" cy="145.16" r="2.1" fill="#a9a9a9"/><circle cx="358.58" cy="154.35" r="2.1" fill="#a9a9a9"/><circle cx="358.1" cy="154.96" r="2.1" fill="#a9a9a9"/><circle cx="358.63" cy="151.15" r="2.1" fill="#a9a9a9"/><circle cx="358.8" cy="150.05" r="2.1" fill="#a9a9a9"/><circle cx="361.5" cy="128.59" r="2.1" fill="#a9a9a9"/><circle cx="361.58" cy="133.88" r="2.1" fill="#a9a9a9"/><circle cx="361.76" cy="134.52" r="2.1" fill="#a9a9a9"/><circle cx="361.18" cy="136.53" r="2.1" fill="#a9a9a9"/><circle cx="361.05" cy="136.99" r="2.1" fill="#a9a9a9"/><circle cx="365.5" cy="128.85" r="2.1" fill="#a9a9a9"/><circle cx="365.92" cy="138.91" r="2.1" fill="#a9a9a9"/><circle cx="365.76" cy="137.04" r="2.1" fill="#a9a9a9"/><circle cx="364.94" cy="130.2" r="2.1" fill="#a9a9a9"/><circle cx="364.1" cy="132.88" r="2.1" fill="#a9a9a9"/><circle cx="365.85" cy="135.44" r="2.1" fill="#a9a9a9"/><circle cx="365.54" cy="138.42" r="2.1" fill="#a9a9a9"/><circle cx="364.4" cy="133.7" r="2.1" fill="#a9a9a9"/><circle cx="365.96" cy="130.92" r="2.1" fill="#a9a9a9"/><circle cx="370.0" cy="149.6" r="2.1" fill="#a9a9a9"/><circle cx="369.71" cy="153.35" r="2.1" fill="#a9a9a9"/><circle cx="369.71" cy="154.67" r="2.1" fill="#a9a9a9"/><circle cx="370.17" cy="157.55" r="2.1" fill="#a9a9a9"/><circle cx="369.41" cy="157.78" r="2.1" fill="#a9a9a9"/><circle cx="369.95" cy="153.7" r="2.1" fill="#a9a9a9"/><circle cx="370.87" cy="154.86" r="2.1" fill="#a9a9a9"/><circle cx="373.5" cy="130.75" r="2.1" fill="#a9a9a9"/><circle cx="373.1" cy="138.87" r="2.1" fill="#a9a9a9"/><circle cx="373.87" cy="139.77" r="2.1" fill="#a9a9a9"/><circle cx="373.4" cy="136.05" r="2.1" fill="#a9a9a9"/><circle cx="373.01" cy="138.92" r="2.1" fill="#a9a9a9"/><circle cx="376.5" cy="156.56" r="2.1" fill="#a9a9a9"/><circle cx="379.5" cy="156.35" r="2.1" fill="#a9a9a9"/><circle cx="378.58" cy="162.93" r="2.1" fill="#a9a9a9"/><circle cx="379.75" cy="164.87" r="2.1" fill="#a9a9a9"/><circle cx="376.99" cy="165.87" r="2.1" fill="#a9a9a9"/><circle cx="376.18" cy="163.56" r="2.1" fill="#a9a9a9"/><circle cx="377.62" cy="161.2" r="2.1" fill="#a9a9a9"/><circle cx="376.23" cy="165.15" r="2.1" fill="#a9a9a9"/><circle cx="376.05" cy="163.69" r="2.1" fill="#a9a9a9"/><circle cx="379.76" cy="160.19" r="2.1" fill="#a9a9a9"/><circle cx="376.8" cy="164.08" r="2.1" fill="#a9a9a9"/><circle cx="381.5" cy="142.11" r="2.1" fill="#a9a9a9"/><circle cx="381.36" cy="150.95" r="2.1" fill="#a9a9a9"/><circle cx="381.83" cy="147.45" r="2.1" fill="#a9a9a9"/><circle cx="384.5" cy="136.9" r="2.1" fill="#000"/><circle cx="383.15" cy="146.39" r="2.1" fill="#000"/><circle cx="385.35" cy="145.36" r="2.1" fill="#000"/><circle cx="383.02" cy="146.13" r="2.1" fill="#000"/><circle cx="385.24" cy="143.69" r="2.1" fill="#000"/><circle cx="385.23" cy="143.59" r="2.1" fill="#000"/><circle cx="383.68" cy="140.33" r="2.1" fill="#000"/><circle cx="383.7" cy="139.28" r="2.1" fill="#000"/><circle cx="384.01" cy="145.57" r="2.1" fill="#000"/><circle cx="389.5" cy="145.1" r="2.1" fill="#000"/><circle cx="390.54" cy="153.14" r="2.1" fill="#000"/><circle cx="388.8" cy="152.11" r="2.1" fill="#000"/><circle cx="389.31" cy="153.6" r="2.1" fill="#000"/><circle cx="389.57" cy="149.86" r="2.1" fill="#000"/><circle cx="389.93" cy="154.61" r="2.1" fill="#000"/><circle cx="388.65" cy="154.14" r="2.1" fill="#000"/><circle cx="388.05" cy="149.81" r="2.1" fill="#000"/><circle cx="388.71" cy="153.34" r="2.1" fill="#000"/><circle cx="393.75" cy="155.34" r="2.1" fill="#000"/><circle cx="394.12" cy="160.4" r="2.1" fill="#000"/><circle cx="394.32" cy="160.42" r="2.1" fill="#000"/><circle cx="393.36" cy="164.29" r="2.1" fill="#000"/><circle cx="393.95" cy="163.02" r="2.1" fill="#000"/><circle cx="394.0" cy="164.69" r="2.1" fill="#000"/><circle cx="397.0" cy="162.07" r="2.1" fill="#000"/><circle cx="397.34" cy="170.25" r="2.1" fill="#000"/><circle cx="397.36" cy="168.48" r="2.1" fill="#000"/><circle cx="397.22" cy="169.43" r="2.1" fill="#000"/><circle cx="396.81" cy="166.55" r="2.1" fill="#000"/><circle cx="400.25" cy="135.22" r="2.1" fill="#000"/><circle cx="399.62" cy="144.51" r="2.1" fill="#000"/><circle cx="399.72" cy="137.03" r="2.1" fill="#000"/><circle cx="399.66" cy="144.61" r="2.1" fill="#000"/><circle cx="400.02" cy="138.79" r="2.1" fill="#000"/><circle cx="399.54" cy="137.34" r="2.1" fill="#000"/><circle cx="404.0" cy="141.29" r="2.1" fill="#000"/><circle cx="404.27" cy="149.25" r="2.1" fill="#000"/><circle cx="404.47" cy="143.76" r="2.1" fill="#000"/><circle cx="404.18" cy="146.9" r="2.1" fill="#000"/><circle cx="404.64" cy="149.99" r="2.1" fill="#000"/><circle cx="404.78" cy="143.76" r="2.1" fill="#000"/><circle cx="404.74" cy="150.53" r="2.1" fill="#000"/><circle cx="407.75" cy="136.84" r="2.1" fill="#000"/><circle cx="411.25" cy="136.01" r="2.1" fill="#000"/><circle cx="408.03" cy="139.72" r="2.1" fill="#000"/><circle cx="407.17" cy="145.45" r="2.1" fill="#000"/><circle cx="411.06" cy="144.15" r="2.1" fill="#000"/><circle cx="411.13" cy="144.13" r="2.1" fill="#000"/><circle cx="408.44" cy="139.56" r="2.1" fill="#000"/><circle cx="407.49" cy="144.92" r="2.1" fill="#000"/><circle cx="408.02" cy="141.84" r="2.1" fill="#000"/><circle cx="409.12" cy="138.18" r="2.1" fill="#000"/><circle cx="408.28" cy="141.52" r="2.1" fill="#000"/><circle cx="410.58" cy="142.24" r="2.1" fill="#000"/><circle cx="415.5" cy="131.92" r="2.1" fill="#a9a9a9"/><circle cx="416.89" cy="138.96" r="2.1" fill="#a9a9a9"/><circle cx="416.55" cy="139.74" r="2.1" fill="#a9a9a9"/><circle cx="414.09" cy="138.29" r="2.1" fill="#a9a9a9"/><circle cx="415.31" cy="140.71" r="2.1" fill="#a9a9a9"/><circle cx="415.04" cy="140.3" r="2.1" fill="#a9a9a9"/><circle cx="415.61" cy="136.59" r="2.1" fill="#a9a9a9"/><circle cx="416.59" cy="135.13" r="2.1" fill="#a9a9a9"/><circle cx="416.46" cy="136.11" r="2.1" fill="#a9a9a9"/><circle cx="420.0" cy="131.2" r="2.1" fill="#a9a9a9"/><circle cx="419.4" cy="140.25" r="2.1" fill="#a9a9a9"/><circle cx="420.96" cy="132.95" r="2.1" fill="#a9a9a9"/><circle cx="419.98" cy="138.48" r="2.1" fill="#a9a9a9"/><circle cx="420.59" cy="135.86" r="2.1" fill="#a9a9a9"/><circle cx="419.99" cy="137.37" r="2.1" fill="#a9a9a9"/><circle cx="420.66" cy="136.62" r="2.1" fill="#a9a9a9"/><circle cx="424.5" cy="143.04" r="2.1" fill="#a9a9a9"/><circle cx="423.85" cy="147.08" r="2.1" fill="#a9a9a9"/><circle cx="425.1" cy="149.43" r="2.1" fill="#a9a9a9"/><circle cx="423.33" cy="150.36" r="2.1" fill="#a9a9a9"/><circle cx="423.24" cy="151.3" r="2.1" fill="#a9a9a9"/><circle cx="425.09" cy="151.29" r="2.1" fill="#a9a9a9"/><circle cx="424.88" cy="148.34" r="2.1" fill="#a9a9a9"/><circle cx="424.2" cy="148.65" r="2.1" fill="#a9a9a9"/><circle cx="425.67" cy="145.57" r="2.1" fill="#a9a9a9"/><circle cx="429.5" cy="144.49" r="2.1" fill="#a9a9a9"/><circle cx="428.08" cy="148.49" r="2.1" fill="#a9a9a9"/><circle cx="428.79" cy="153.46" r="2.1" fill="#a9a9a9"/><circle cx="429.5" cy="150.03" r="2.1" fill="#a9a9a9"/><circle cx="430.65" cy="148.76" r="2.1" fill="#a9a9a9"/><circle cx="429.38" cy="151.16" r="2.1" fill="#a9a9a9"/><circle cx="430.26" cy="152.59" r="2.1" fill="#a9a9a9"/><circle cx="429.94" cy="149.78" r="2.1" fill="#a9a9a9"/><circle cx="428.98" cy="147.94" r="2.1" fill="#a9a9a9"/><circle cx="434.5" cy="131.44" r="2.1" fill="#a9a9a9"/><circle cx="434.99" cy="139.52" r="2.1" fill="#a9a9a9"/><circle cx="433.51" cy="137.49" r="2.1" fill="#a9a9a9"/><circle cx="435.32" cy="138.49" r="2.1" fill="#a9a9a9"/><circle cx="433.38" cy="137.66" r="2.1" fill="#a9a9a9"/><circle cx="435.66" cy="135.8" r="2.1" fill="#a9a9a9"/><circle cx="433.57" cy="136.38" r="2.1" fill="#a9a9a9"/><circle cx="435.11" cy="140.13" r="2.1" fill="#a9a9a9"/><circle cx="433.46" cy="134.95" r="2.1" fill="#a9a9a9"/><circle cx="439.0" cy="146.85" r="2.1" fill="#a9a9a9"/><circle cx="438.65" cy="154.09" r="2.1" fill="#a9a9a9"/><circle cx="438.32" cy="152.61" r="2.1" fill="#a9a9a9"/><circle cx="438.38" cy="156.87" r="2.1" fill="#a9a9a9"/><circle cx="439.46" cy="150.29" r="2.1" fill="#a9a9a9"/><circle cx="439.92" cy="150.28" r="2.1" fill="#a9a9a9"/><circle cx="438.77" cy="156.91" r="2.1" fill="#a9a9a9"/><circle cx="443.5" cy="131.39" r="2.1" fill="#a9a9a9"/><circle cx="444.2" cy="137.46" r="2.1" fill="#a9a9a9"/><circle cx="442.59" cy="138.87" r="2.1" fill="#a9a9a9"/><circle cx="442.32" cy="135.49" r="2.1" fill="#a9a9a9"/><circle cx="443.17" cy="133.18" r="2.1" fill="#a9a9a9"/><circle cx="443.2" cy="139.82" r="2.1" fill="#a9a9a9"/><circle cx="444.08" cy="137.94" r="2.1" fill="#a9a9a9"/><circle cx="443.9" cy="137.67" r="2.1" fill="#a9a9a9"/><circle cx="442.43" cy="138.65" r="2.1" fill="#a9a9a9"/><circle cx="448.0" cy="146.3" r="2.1" fill="#000"/><circle cx="448.48" cy="155.79" r="2.1" fill="#000"/><circle cx="447.86" cy="153.75" r="2.1" fill="#000"/><circle cx="448.5" cy="152.66" r="2.1" fill="#000"/><circle cx="447.46" cy="154.7" r="2.1" fill="#000"/><circle cx="448.76" cy="155.02" r="2.1" fill="#000"/><circle cx="448.4" cy="155.48" r="2.1" fill="#000"/><circle cx="452.5" cy="144.28" r="2.1" fill="#000"/><circle cx="452.92" cy="150.6" r="2.1" fill="#000"/><circle cx="451.94" cy="151.81" r="2.1" fill="#000"/><circle cx="451.29" cy="150.34" r="2.1" fill="#000"/><circle cx="453.35" cy="152.35" r="2.1" fill="#000"/><circle cx="452.89" cy="148.92" r="2.1" fill="#000"/><circle cx="452.27" cy="150.61" r="2.1" fill="#000"/><circle cx="452.86" cy="150.27" r="2.1" fill="#000"/><circle cx="453.03" cy="153.62" r="2.1" fill="#000"/><circle cx="457.5" cy="145.28" r="2.1" fill="#000"/><circle cx="457.96" cy="154.24" r="2.1" fill="#000"/><circle cx="457.17" cy="152.37" r="2.1" fill="#000"/><circle cx="458.92" cy="147.77" r="2.1" fill="#000"/><circle cx="457.63" cy="149.51" r="2.1" fill="#000"/><circle cx="458.35" cy="155.18" r="2.1" fill="#000"/><circle cx="457.56" cy="148.78" r="2.1" fill="#000"/><circle cx="457.72" cy="152.73" r="2.1" fill="#000"/><circle cx="458.15" cy="152.52" r="2.1" fill="#000"/><circle cx="462.5" cy="146.24" r="2.1" fill="#000"/><circle cx="463.49" cy="153.09" r="2.1" fill="#000"/><circle cx="462.23" cy="155.72" r="2.1" fill="#000"/><circle cx="461.63" cy="154.17" r="2.1" fill="#000"/><circle cx="462.18" cy="154.65" r="2.1" fill="#000"/><circle cx="461.37" cy="155.92" r="2.1" fill="#000"/><circle cx="462.07" cy="148.61" r="2.1" fill="#000"/><circle cx="461.82" cy="152.19" r="2.1" fill="#000"/><circle cx="461.04" cy="152.34" r="2.1" fill="#000"/><circle cx="467.5" cy="142.52" r="2.1" fill="#000"/><circle cx="468.09" cy="148.31" r="2.1" fill="#000"/><circle cx="466.8" cy="147.17" r="2.1" fill="#000"/><circle cx="468.22" cy="152.17" r="2.1" fill="#000"/><circle cx="467.58" cy="147.12" r="2.1" fill="#000"/><circle cx="468.4" cy="148.63" r="2.1" fill="#000"/><circle cx="466.64" cy="146.14" r="2.1" fill="#000"/><circle cx="468.33" cy="151.43" r="2.1" fill="#000"/><circle cx="467.9" cy="149.22" r="2.1" fill="#000"/><circle cx="472.0" cy="131.16" r="2.1" fill="#000"/><circle cx="471.45" cy="140.8" r="2.1" fill="#000"/><circle cx="471.71" cy="138.88" r="2.1" fill="#000"/><circle cx="472.64" cy="139.97" r="2.1" fill="#000"/><circle cx="471.94" cy="136.32" r="2.1" fill="#000"/><circle cx="472.1" cy="134.59" r="2.1" fill="#000"/><circle cx="472.67" cy="136.83" r="2.1" fill="#000"/><circle cx="476.5" cy="130.45" r="2.1" fill="#a9a9a9"/><circle cx="475.8" cy="136.01" r="2.1" fill="#a9a9a9"/><circle cx="475.76" cy="136.39" r="2.1" fill="#a9a9a9"/><circle cx="475.56" cy="131.26" r="2.1" fill="#a9a9a9"/><circle cx="477.17" cy="135.2" r="2.1" fill="#a9a9a9"/><circle cx="475.73" cy="135.39" r="2.1" fill="#a9a9a9"/><circle cx="476.44" cy="136.41" r="2.1" fill="#a9a9a9"/><circle cx="476.91" cy="138.01" r="2.1" fill="#a9a9a9"/><circle cx="476.09" cy="139.61" r="2.1" fill="#a9a9a9"/><circle cx="481.0" cy="138.25" r="2.1" fill="#a9a9a9"/><circle cx="480.11" cy="146.84" r="2.1" fill="#a9a9a9"/><circle cx="481.81" cy="146.58" r="2.1" fill="#a9a9a9"/><circle cx="480.28" cy="146.86" r="2.1" fill="#a9a9a9"/><circle cx="481.27" cy="139.52" r="2.1" fill="#a9a9a9"/><circle cx="480.02" cy="147.54" r="2.1" fill="#a9a9a9"/><circle cx="481.31" cy="142.72" r="2.1" fill="#a9a9a9"/><circle cx="485.0" cy="129.7" r="2.1" fill="#a9a9a9"/><circle cx="484.29" cy="134.76" r="2.1" fill="#a9a9a9"/><circle cx="485.55" cy="135.76" r="2.1" fill="#a9a9a9"/><circle cx="484.31" cy="139.47" r="2.1" fill="#a9a9a9"/><circle cx="485.58" cy="134.09" r="2.1" fill="#a9a9a9"/><circle cx="485.78" cy="137.68" r="2.1" fill="#a9a9a9"/><circle cx="485.56" cy="138.07" r="2.1" fill="#a9a9a9"/><circle cx="489.0" cy="142.99" r="2.1" fill="#a9a9a9"/><circle cx="489.58" cy="151.6" r="2.1" fill="#a9a9a9"/><circle cx="488.39" cy="150.72" r="2.1" fill="#a9a9a9"/><circle cx="489.06" cy="151.02" r="2.1" fill="#a9a9a9"/><circle cx="488.88" cy="151.85" r="2.1" fill="#a9a9a9"/><circle cx="489.11" cy="147.55" r="2.1" fill="#a9a9a9"/><circle cx="488.47" cy="146.26" r="2.1" fill="#a9a9a9"/><circle cx="493.5" cy="144.09" r="2.1" fill="#a9a9a9"/><circle cx="492.18" cy="150.7" r="2.1" fill="#a9a9a9"/><circle cx="492.43" cy="150.88" r="2.1" fill="#a9a9a9"/><circle cx="493.49" cy="151.22" r="2.1" fill="#a9a9a9"/><circle cx="494.59" cy="145.44" r="2.1" fill="#a9a9a9"/><circle cx="494.52" cy="150.71" r="2.1" fill="#a9a9a9"/><circle cx="493.69" cy="152.05" r="2.1" fill="#a9a9a9"/><circle cx="494.52" cy="150.0" r="2.1" fill="#a9a9a9"/><circle cx="493.26" cy="153.79" r="2.1" fill="#a9a9a9"/><circle cx="498.0" cy="146.68" r="2.1" fill="#a9a9a9"/><circle cx="498.27" cy="154.86" r="2.1" fill="#a9a9a9"/><circle cx="497.06" cy="154.69" r="2.1" fill="#a9a9a9"/><circle cx="498.37" cy="156.62" r="2.1" fill="#a9a9a9"/><circle cx="497.66" cy="156.9" r="2.1" fill="#a9a9a9"/><circle cx="498.02" cy="153.83" r="2.1" fill="#a9a9a9"/><circle cx="498.8" cy="149.18" r="2.1" fill="#a9a9a9"/><circle cx="501.5" cy="150.32" r="2.1" fill="#a9a9a9"/><circle cx="501.63" cy="155.7" r="2.1" fill="#a9a9a9"/><circle cx="501.86" cy="155.93" r="2.1" fill="#a9a9a9"/><circle cx="501.47" cy="157.12" r="2.1" fill="#a9a9a9"/><circle cx="501.77" cy="154.54" r="2.1" fill="#a9a9a9"/><circle cx="504.38" cy="144.04" r="2.1" fill="#a9a9a9"/><circle cx="507.12" cy="144.02" r="2.1" fill="#a9a9a9"/><circle cx="505.94" cy="153.03" r="2.1" fill="#a9a9a9"/><circle cx="505.03" cy="153.03" r="2.1" fill="#a9a9a9"/><circle cx="505.41" cy="150.96" r="2.1" fill="#a9a9a9"/><circle cx="504.95" cy="150.98" r="2.1" fill="#a9a9a9"/><circle cx="507.41" cy="151.98" r="2.1" fill="#a9a9a9"/><circle cx="506.77" cy="149.64" r="2.1" fill="#a9a9a9"/><circle cx="505.11" cy="149.36" r="2.1" fill="#a9a9a9"/><circle cx="506.05" cy="151.85" r="2.1" fill="#a9a9a9"/><circle cx="510.5" cy="124.38" r="2.1" fill="#000"/><circle cx="509.58" cy="132.41" r="2.1" fill="#000"/><circle cx="511.27" cy="131.26" r="2.1" fill="#000"/><circle cx="509.6" cy="129.37" r="2.1" fill="#000"/><circle cx="509.51" cy="128.32" r="2.1" fill="#000"/><circle cx="511.34" cy="131.68" r="2.1" fill="#000"/><circle cx="510.82" cy="132.81" r="2.1" fill="#000"/><circle cx="514.0" cy="139.51" r="2.1" fill="#000"/><circle cx="514.11" cy="146.73" r="2.1" fill="#000"/><circle cx="514.13" cy="147.24" r="2.1" fill="#000"/><circle cx="514.1" cy="147.15" r="2.1" fill="#000"/><circle cx="513.71" cy="147.06" r="2.1" fill="#000"/><circle cx="517.25" cy="124.06" r="2.1" fill="#000"/><circle cx="517.64" cy="127.28" r="2.1" fill="#000"/><circle cx="516.77" cy="126.24" r="2.1" fill="#000"/><circle cx="517.66" cy="133.53" r="2.1" fill="#000"/><circle cx="517.48" cy="129.95" r="2.1" fill="#000"/><circle cx="517.73" cy="132.79" r="2.1" fill="#000"/><circle cx="520.5" cy="144.16" r="2.1" fill="#000"/><circle cx="520.26" cy="149.39" r="2.1" fill="#000"/><circle cx="520.42" cy="149.53" r="2.1" fill="#000"/><circle cx="520.43" cy="151.9" r="2.1" fill="#000"/><circle cx="520.93" cy="146.57" r="2.1" fill="#000"/><circle cx="524.0" cy="146.17" r="2.1" fill="#000"/><circle cx="523.08" cy="149.51" r="2.1" fill="#000"/><circle cx="524.62" cy="153.46" r="2.1" fill="#000"/><circle cx="524.84" cy="152.55" r="2.1" fill="#000"/><circle cx="523.03" cy="152.09" r="2.1" fill="#000"/><circle cx="524.18" cy="155.66" r="2.1" fill="#000"/><circle cx="524.96" cy="152.76" r="2.1" fill="#000"/><circle cx="528.0" cy="140.01" r="2.1" fill="#000"/><circle cx="527.2" cy="147.91" r="2.1" fill="#000"/><circle cx="527.42" cy="143.9" r="2.1" fill="#000"/><circle cx="527.03" cy="141.36" r="2.1" fill="#000"/><circle cx="528.37" cy="143.54" r="2.1" fill="#000"/><circle cx="528.93" cy="143.1" r="2.1" fill="#000"/><circle cx="528.74" cy="143.63" r="2.1" fill="#000"/><circle cx="531.75" cy="136.62" r="2.1" fill="#000"/><circle cx="532.08" cy="141.84" r="2.1" fill="#000"/><circle cx="532.1" cy="141.3" r="2.1" fill="#000"/><circle cx="531.08" cy="145.72" r="2.1" fill="#000"/><circle cx="532.07" cy="146.2" r="2.1" fill="#000"/><circle cx="532.09" cy="140.04" r="2.1" fill="#000"/><circle cx="534.75" cy="150.23" r="2.1" fill="#a9a9a9"/><circle cx="534.85" cy="156.65" r="2.1" fill="#a9a9a9"/><circle cx="534.97" cy="154.96" r="2.1" fill="#a9a9a9"/><circle cx="534.98" cy="158.37" r="2.1" fill="#a9a9a9"/><circle cx="534.51" cy="151.72" r="2.1" fill="#a9a9a9"/><circle cx="538.0" cy="136.55" r="2.1" fill="#a9a9a9"/><circle cx="538.63" cy="139.27" r="2.1" fill="#a9a9a9"/><circle cx="537.62" cy="144.75" r="2.1" fill="#a9a9a9"/><circle cx="537.33" cy="145.53" r="2.1" fill="#a9a9a9"/><circle cx="537.97" cy="138.96" r="2.1" fill="#a9a9a9"/><circle cx="537.74" cy="143.76" r="2.1" fill="#a9a9a9"/><circle cx="537.88" cy="144.42" r="2.1" fill="#a9a9a9"/><circle cx="542.5" cy="142.24" r="2.1" fill="#a9a9a9"/><circle cx="543.39" cy="148.4" r="2.1" fill="#a9a9a9"/><circle cx="542.93" cy="150.32" r="2.1" fill="#a9a9a9"/><circle cx="542.25" cy="148.58" r="2.1" fill="#a9a9a9"/><circle cx="543.36" cy="152.2" r="2.1" fill="#a9a9a9"/><circle cx="543.35" cy="149.9" r="2.1" fill="#a9a9a9"/><circle cx="541.88" cy="145.17" r="2.1" fill="#a9a9a9"/><circle cx="543.92" cy="150.79" r="2.1" fill="#a9a9a9"/><circle cx="543.48" cy="148.14" r="2.1" fill="#a9a9a9"/><circle cx="547.5" cy="131.81" r="2.1" fill="#a9a9a9"/><circle cx="548.93" cy="140.66" r="2.1" fill="#a9a9a9"/><circle cx="547.8" cy="137.05" r="2.1" fill="#a9a9a9"/><circle cx="547.29" cy="140.98" r="2.1" fill="#a9a9a9"/><circle cx="547.13" cy="139.77" r="2.1" fill="#a9a9a9"/><circle cx="547.81" cy="141.03" r="2.1" fill="#a9a9a9"/><circle cx="548.42" cy="136.82" r="2.1" fill="#a9a9a9"/><circle cx="546.01" cy="136.64" r="2.1" fill="#a9a9a9"/><circle cx="547.27" cy="139.14" r="2.1" fill="#a9a9a9"/><circle cx="552.5" cy="138.22" r="2.1" fill="#a9a9a9"/><circle cx="553.66" cy="140.15" r="2.1" fill="#a9a9a9"/><circle cx="553.5" cy="146.74" r="2.1" fill="#a9a9a9"/><circle cx="553.6" cy="145.24" r="2.1" fill="#a9a9a9"/><circle cx="551.82" cy="146.97" r="2.1" fill="#a9a9a9"/><circle cx="553.42" cy="145.97" r="2.1" fill="#a9a9a9"/><circle cx="553.74" cy="143.57" r="2.1" fill="#a9a9a9"/><circle cx="551.26" cy="145.11" r="2.1" fill="#a9a9a9"/><circle cx="553.39" cy="142.23" r="2.1" fill="#a9a9a9"/><circle cx="556.7" cy="142.85" r="2.1" fill="#a9a9a9"/><circle cx="557.3" cy="147.27" r="2.1" fill="#a9a9a9"/><circle cx="556.85" cy="150.63" r="2.1" fill="#a9a9a9"/><circle cx="556.65" cy="146.99" r="2.1" fill="#a9a9a9"/><circle cx="556.36" cy="151.08" r="2.1" fill="#a9a9a9"/><circle cx="557.11" cy="149.15" r="2.1" fill="#a9a9a9"/><circle cx="560.2" cy="139.09" r="2.1" fill="#000"/><circle cx="560.69" cy="148.11" r="2.1" fill="#000"/><circle cx="559.77" cy="146.89" r="2.1" fill="#000"/><circle cx="560.84" cy="148.76" r="2.1" fill="#000"/><circle cx="560.23" cy="146.17" r="2.1" fill="#000"/><circle cx="560.34" cy="143.71" r="2.1" fill="#000"/><circle cx="564.0" cy="131.39" r="2.1" fill="#000"/><circle cx="563.36" cy="139.87" r="2.1" fill="#000"/><circle cx="563.73" cy="138.99" r="2.1" fill="#000"/><circle cx="563.8" cy="138.66" r="2.1" fill="#000"/><circle cx="563.3" cy="133.99" r="2.1" fill="#000"/><circle cx="564.99" cy="137.59" r="2.1" fill="#000"/><circle cx="563.21" cy="139.44" r="2.1" fill="#000"/><circle cx="568.0" cy="135.09" r="2.1" fill="#000"/><circle cx="567.31" cy="142.31" r="2.1" fill="#000"/><circle cx="567.69" cy="141.78" r="2.1" fill="#000"/><circle cx="567.04" cy="136.87" r="2.1" fill="#000"/><circle cx="568.98" cy="143.96" r="2.1" fill="#000"/><circle cx="567.97" cy="142.1" r="2.1" fill="#000"/><circle cx="567.52" cy="143.45" r="2.1" fill="#000"/><circle cx="572.0" cy="128.53" r="2.1" fill="#000"/><circle cx="572.89" cy="137.18" r="2.1" fill="#000"/><circle cx="572.64" cy="138.3" r="2.1" fill="#000"/><circle cx="571.51" cy="130.76" r="2.1" fill="#000"/><circle cx="571.4" cy="132.72" r="2.1" fill="#000"/><circle cx="571.17" cy="131.01" r="2.1" fill="#000"/><circle cx="572.11" cy="137.78" r="2.1" fill="#000"/><circle cx="575.5" cy="136.36" r="2.1" fill="#000"/><circle cx="575.95" cy="145.8" r="2.1" fill="#000"/><circle cx="575.06" cy="143.91" r="2.1" fill="#000"/><circle cx="575.4" cy="139.82" r="2.1" fill="#000"/><circle cx="575.96" cy="141.28" r="2.1" fill="#000"/><circle cx="579.0" cy="142.66" r="2.1" fill="#a9a9a9"/><circle cx="579.28" cy="152.26" r="2.1" fill="#a9a9a9"/><circle cx="579.34" cy="148.64" r="2.1" fill="#a9a9a9"/><circle cx="578.9" cy="146.49" r="2.1" fill="#a9a9a9"/><circle cx="579.93" cy="152.46" r="2.1" fill="#a9a9a9"/><circle cx="578.44" cy="144.78" r="2.1" fill="#a9a9a9"/><circle cx="578.51" cy="148.31" r="2.1" fill="#a9a9a9"/><circle cx="583.0" cy="149.1" r="2.1" fill="#a9a9a9"/><circle cx="583.81" cy="157.69" r="2.1" fill="#a9a9a9"/><circle cx="582.09" cy="157.39" r="2.1" fill="#a9a9a9"/><circle cx="583.42" cy="156.53" r="2.1" fill="#a9a9a9"/><circle cx="583.97" cy="151.19" r="2.1" fill="#a9a9a9"/><circle cx="582.29" cy="157.2" r="2.1" fill="#a9a9a9"/><circle cx="583.88" cy="156.72" r="2.1" fill="#a9a9a9"/><circle cx="587.5" cy="150.9" r="2.1" fill="#a9a9a9"/><circle cx="587.77" cy="159.62" r="2.1" fill="#a9a9a9"/><circle cx="586.32" cy="156.58" r="2.1" fill="#a9a9a9"/><circle cx="586.77" cy="154.57" r="2.1" fill="#a9a9a9"/><circle cx="587.44" cy="155.09" r="2.1" fill="#a9a9a9"/><circle cx="586.72" cy="154.8" r="2.1" fill="#a9a9a9"/><circle cx="588.03" cy="152.65" r="2.1" fill="#a9a9a9"/><circle cx="588.15" cy="155.38" r="2.1" fill="#a9a9a9"/><circle cx="586.11" cy="160.6" r="2.1" fill="#a9a9a9"/><circle cx="592.0" cy="150.02" r="2.1" fill="#a9a9a9"/><circle cx="592.87" cy="159.46" r="2.1" fill="#a9a9a9"/><circle cx="592.78" cy="153.96" r="2.1" fill="#a9a9a9"/><circle cx="591.89" cy="153.42" r="2.1" fill="#a9a9a9"/><circle cx="592.86" cy="159.32" r="2.1" fill="#a9a9a9"/><circle cx="592.26" cy="156.79" r="2.1" fill="#a9a9a9"/><circle cx="591.68" cy="159.21" r="2.1" fill="#a9a9a9"/><circle cx="595.6" cy="148.68" r="2.1" fill="#a9a9a9"/><circle cx="595.75" cy="152.4" r="2.1" fill="#a9a9a9"/><circle cx="595.27" cy="151.21" r="2.1" fill="#a9a9a9"/><circle cx="595.86" cy="155.91" r="2.1" fill="#a9a9a9"/><circle cx="595.17" cy="157.88" r="2.1" fill="#a9a9a9"/><circle cx="595.32" cy="154.88" r="2.1" fill="#a9a9a9"/><circle cx="599.1" cy="139.16" r="2.1" fill="#000"/><circle cx="598.69" cy="148.5" r="2.1" fill="#000"/><circle cx="598.8" cy="143.48" r="2.1" fill="#000"/><circle cx="599.08" cy="144.93" r="2.1" fill="#000"/><circle cx="599.83" cy="142.85" r="2.1" fill="#000"/><circle cx="599.96" cy="142.01" r="2.1" fill="#000"/><circle cx="599.81" cy="147.47" r="2.1" fill="#000"/><circle cx="603.5" cy="149.81" r="2.1" fill="#000"/><circle cx="603.43" cy="155.25" r="2.1" fill="#000"/><circle cx="602.77" cy="154.44" r="2.1" fill="#000"/><circle cx="603.09" cy="159.95" r="2.1" fill="#000"/><circle cx="604.99" cy="159.59" r="2.1" fill="#000"/><circle cx="602.29" cy="155.28" r="2.1" fill="#000"/><circle cx="604.69" cy="152.62" r="2.1" fill="#000"/><circle cx="604.18" cy="155.31" r="2.1" fill="#000"/><circle cx="604.94" cy="151.75" r="2.1" fill="#000"/><circle cx="608.5" cy="149.01" r="2.1" fill="#000"/><circle cx="608.02" cy="152.37" r="2.1" fill="#000"/><circle cx="607.01" cy="157.66" r="2.1" fill="#000"/><circle cx="608.58" cy="152.88" r="2.1" fill="#000"/><circle cx="608.31" cy="158.12" r="2.1" fill="#000"/><circle cx="607.65" cy="156.03" r="2.1" fill="#000"/><circle cx="607.41" cy="152.82" r="2.1" fill="#000"/><circle cx="609.31" cy="156.94" r="2.1" fill="#000"/><circle cx="607.59" cy="151.57" r="2.1" fill="#000"/><circle cx="613.0" cy="141.69" r="2.1" fill="#000"/><circle cx="613.22" cy="148.91" r="2.1" fill="#000"/><circle cx="612.55" cy="146.49" r="2.1" fill="#000"/><circle cx="613.22" cy="150.31" r="2.1" fill="#000"/><circle cx="613.62" cy="149.51" r="2.1" fill="#000"/><circle cx="612.4" cy="144.76" r="2.1" fill="#000"/><circle cx="613.47" cy="148.26" r="2.1" fill="#000"/><circle cx="616.0" cy="144.32" r="2.1" fill="#a9a9a9"/><circle cx="616.0" cy="152.93" r="2.1" fill="#a9a9a9"/><circle cx="616.0" cy="153.12" r="2.1" fill="#a9a9a9"/><circle cx="616.0" cy="150.89" r="2.1" fill="#a9a9a9"/><circle cx="619.0" cy="131.22" r="2.1" fill="#a9a9a9"/><circle cx="619.82" cy="138.37" r="2.1" fill="#a9a9a9"/><circle cx="619.74" cy="136.67" r="2.1" fill="#a9a9a9"/><circle cx="618.37" cy="140.66" r="2.1" fill="#a9a9a9"/><circle cx="618.73" cy="135.64" r="2.1" fill="#a9a9a9"/><circle cx="618.74" cy="139.19" r="2.1" fill="#a9a9a9"/><circle cx="618.01" cy="138.68" r="2.1" fill="#a9a9a9"/><circle cx="623.0" cy="129.05" r="2.1" fill="#a9a9a9"/><circle cx="623.03" cy="132.53" r="2.1" fill="#a9a9a9"/><circle cx="623.43" cy="137.97" r="2.1" fill="#a9a9a9"/><circle cx="623.73" cy="134.55" r="2.1" fill="#a9a9a9"/><circle cx="623.42" cy="135.05" r="2.1" fill="#a9a9a9"/><circle cx="623.5" cy="131.68" r="2.1" fill="#a9a9a9"/><circle cx="623.75" cy="138.75" r="2.1" fill="#a9a9a9"/><circle cx="627.0" cy="136.39" r="2.1" fill="#a9a9a9"/><circle cx="627.03" cy="143.45" r="2.1" fill="#a9a9a9"/><circle cx="627.07" cy="138.18" r="2.1" fill="#a9a9a9"/><circle cx="627.93" cy="140.96" r="2.1" fill="#a9a9a9"/><circle cx="626.36" cy="139.6" r="2.1" fill="#a9a9a9"/><circle cx="626.5" cy="145.27" r="2.1" fill="#a9a9a9"/><circle cx="626.06" cy="139.51" r="2.1" fill="#a9a9a9"/><circle cx="631.0" cy="141.3" r="2.1" fill="#a9a9a9"/><circle cx="630.39" cy="142.8" r="2.1" fill="#a9a9a9"/><circle cx="631.2" cy="148.47" r="2.1" fill="#a9a9a9"/><circle cx="631.05" cy="149.28" r="2.1" fill="#a9a9a9"/><circle cx="630.21" cy="150.28" r="2.1" fill="#a9a9a9"/><circle cx="631.43" cy="143.4" r="2.1" fill="#a9a9a9"/><circle cx="630.25" cy="147.89" r="2.1" fill="#a9a9a9"/><circle cx="635.0" cy="127.1" r="2.1" fill="#000"/><circle cx="634.56" cy="130.55" r="2.1" fill="#000"/><circle cx="634.81" cy="130.73" r="2.1" fill="#000"/><circle cx="635.18" cy="136.23" r="2.1" fill="#000"/><circle cx="634.29" cy="134.44" r="2.1" fill="#000"/><circle cx="635.49" cy="131.05" r="2.1" fill="#000"/><circle cx="635.65" cy="136.66" r="2.1" fill="#000"/><circle cx="639.5" cy="148.59" r="2.1" fill="#000"/><circle cx="639.26" cy="157.7" r="2.1" fill="#000"/><circle cx="639.58" cy="154.76" r="2.1" fill="#000"/><circle cx="640.82" cy="157.34" r="2.1" fill="#000"/><circle cx="639.02" cy="153.43" r="2.1" fill="#000"/><circle cx="639.01" cy="155.07" r="2.1" fill="#000"/><circle cx="640.94" cy="157.5" r="2.1" fill="#000"/><circle cx="640.74" cy="157.56" r="2.1" fill="#000"/><circle cx="640.54" cy="151.15" r="2.1" fill="#000"/><circle cx="644.0" cy="147.12" r="2.1" fill="#000"/><circle cx="644.92" cy="156.64" r="2.1" fill="#000"/><circle cx="643.5" cy="153.36" r="2.1" fill="#000"/><circle cx="644.27" cy="152.91" r="2.1" fill="#000"/><circle cx="644.06" cy="149.81" r="2.1" fill="#000"/><circle cx="643.87" cy="153.97" r="2.1" fill="#000"/><circle cx="643.04" cy="150.76" r="2.1" fill="#000"/><circle cx="648.0" cy="133.77" r="2.1" fill="#a9a9a9"/><circle cx="648.55" cy="142.86" r="2.1" fill="#a9a9a9"/><circle cx="648.27" cy="142.13" r="2.1" fill="#a9a9a9"/><circle cx="648.77" cy="142.56" r="2.1" fill="#a9a9a9"/><circle cx="647.07" cy="141.1" r="2.1" fill="#a9a9a9"/><circle cx="647.53" cy="141.33" r="2.1" fill="#a9a9a9"/><circle cx="647.55" cy="140.43" r="2.1" fill="#a9a9a9"/><circle cx="652.5" cy="149.12" r="2.1" fill="#a9a9a9"/><circle cx="652.86" cy="153.52" r="2.1" fill="#a9a9a9"/><circle cx="652.56" cy="155.05" r="2.1" fill="#a9a9a9"/><circle cx="653.85" cy="153.86" r="2.1" fill="#a9a9a9"/><circle cx="651.92" cy="156.53" r="2.1" fill="#a9a9a9"/><circle cx="651.36" cy="156.19" r="2.1" fill="#a9a9a9"/><circle cx="653.87" cy="155.64" r="2.1" fill="#a9a9a9"/><circle cx="651.81" cy="155.3" r="2.1" fill="#a9a9a9"/><circle cx="652.6" cy="152.46" r="2.1" fill="#a9a9a9"/><circle cx="657.5" cy="142.22" r="2.1" fill="#a9a9a9"/><circle cx="656.39" cy="147.81" r="2.1" fill="#a9a9a9"/><circle cx="657.22" cy="147.77" r="2.1" fill="#a9a9a9"/><circle cx="656.73" cy="145.59" r="2.1" fill="#a9a9a9"/><circle cx="657.64" cy="151.6" r="2.1" fill="#a9a9a9"/><circle cx="657.83" cy="149.92" r="2.1" fill="#a9a9a9"/><circle cx="657.95" cy="146.94" r="2.1" fill="#a9a9a9"/><circle cx="658.13" cy="149.15" r="2.1" fill="#a9a9a9"/><circle cx="657.64" cy="150.21" r="2.1" fill="#a9a9a9"/><circle cx="661.15" cy="147.07" r="2.1" fill="#a9a9a9"/><circle cx="661.09" cy="151.84" r="2.1" fill="#a9a9a9"/><circle cx="661.07" cy="154.03" r="2.1" fill="#a9a9a9"/><circle cx="661.11" cy="154.53" r="2.1" fill="#a9a9a9"/><circle cx="664.15" cy="143.61" r="2.1" fill="#000"/><circle cx="663.9" cy="153.23" r="2.1" fill="#000"/><circle cx="663.71" cy="151.33" r="2.1" fill="#000"/><circle cx="664.14" cy="149.24" r="2.1" fill="#000"/><circle cx="664.98" cy="149.33" r="2.1" fill="#000"/><circle cx="664.61" cy="147.98" r="2.1" fill="#000"/><circle cx="663.41" cy="153.29" r="2.1" fill="#000"/><circle cx="668.0" cy="141.74" r="2.1" fill="#000"/><circle cx="672.0" cy="141.36" r="2.1" fill="#000"/><circle cx="669.33" cy="148.2" r="2.1" fill="#000"/><circle cx="671.41" cy="145.08" r="2.1" fill="#000"/><circle cx="668.35" cy="151.48" r="2.1" fill="#000"/><circle cx="671.43" cy="145.64" r="2.1" fill="#000"/><circle cx="669.02" cy="147.51" r="2.1" fill="#000"/><circle cx="671.05" cy="149.43" r="2.1" fill="#000"/><circle cx="672.1" cy="150.7" r="2.1" fill="#000"/><circle cx="670.11" cy="150.2" r="2.1" fill="#000"/><circle cx="671.46" cy="150.33" r="2.1" fill="#000"/><circle cx="669.85" cy="150.48" r="2.1" fill="#000"/><circle cx="671.25" cy="151.23" r="2.1" fill="#000"/><circle cx="667.76" cy="150.98" r="2.1" fill="#000"/><circle cx="676.0" cy="142.1" r="2.1" fill="#a9a9a9"/><circle cx="676.53" cy="150.03" r="2.1" fill="#a9a9a9"/><circle cx="676.0" cy="152.3" r="2.1" fill="#a9a9a9"/><circle cx="676.14" cy="148.83" r="2.1" fill="#a9a9a9"/><circle cx="676.57" cy="151.79" r="2.1" fill="#a9a9a9"/><circle cx="676.21" cy="148.53" r="2.1" fill="#a9a9a9"/><circle cx="675.9" cy="149.13" r="2.1" fill="#a9a9a9"/><circle cx="680.0" cy="145.82" r="2.1" fill="#a9a9a9"/><circle cx="679.59" cy="151.62" r="2.1" fill="#a9a9a9"/><circle cx="680.11" cy="151.57" r="2.1" fill="#a9a9a9"/><circle cx="679.64" cy="154.3" r="2.1" fill="#a9a9a9"/><circle cx="680.7" cy="152.43" r="2.1" fill="#a9a9a9"/><circle cx="679.89" cy="149.76" r="2.1" fill="#a9a9a9"/><circle cx="679.61" cy="149.33" r="2.1" fill="#a9a9a9"/><circle cx="683.0" cy="142.68" r="2.1" fill="#a9a9a9"/><circle cx="683.0" cy="145.59" r="2.1" fill="#a9a9a9"/><circle cx="683.0" cy="148.08" r="2.1" fill="#a9a9a9"/><circle cx="683.0" cy="151.6" r="2.1" fill="#a9a9a9"/><polygon points="181,151.5 184.6,150.5 184.2,156 182.2,158.5 180.6,156" fill="#fff"/><polygon points="67.2,141 71.8,141 70.6,151 70.1,158 69.8,226 69.0,226 68.8,158 68.3,151" fill="#fff"/><polygon points="395.0,139 399.2,139 398.6,155 398.2,170 397.8,190 397.6,226 396.9,226 396.7,190 396.1,170 395.7,155" fill="#fff"/><circle cx="40.8" cy="128.5" r="2.1" fill="#000"/><circle cx="41.9" cy="136.5" r="2.1" fill="#000"/><circle cx="45" cy="137" r="2.1" fill="#000"/><circle cx="49.1" cy="121.1" r="2.1" fill="#000"/><circle cx="49.1" cy="125.4" r="2.1" fill="#000"/><circle cx="51.9" cy="133.9" r="2.1" fill="#000"/><circle cx="53.4" cy="137.8" r="2.1" fill="#000"/><circle cx="56" cy="138" r="2.1" fill="#000"/><circle cx="59.3" cy="120.5" r="2.1" fill="#000"/><circle cx="59.3" cy="125.4" r="2.1" fill="#000"/><circle cx="59.3" cy="128.2" r="2.1" fill="#000"/><circle cx="59.3" cy="131.6" r="2.1" fill="#000"/><circle cx="59.3" cy="135" r="2.1" fill="#000"/><circle cx="59.3" cy="139" r="2.1" fill="#000"/><circle cx="62.5" cy="140" r="2.1" fill="#000"/><circle cx="66.6" cy="134.7" r="2.1" fill="#000"/><circle cx="72.7" cy="130.8" r="2.1" fill="#000"/><circle cx="75" cy="130.8" r="2.1" fill="#000"/><circle cx="75.5" cy="140" r="2.1" fill="#000"/><circle cx="75.7" cy="133.8" r="2.1" fill="#000"/><circle cx="75.7" cy="136.7" r="2.1" fill="#000"/><circle cx="76.6" cy="121.4" r="2.1" fill="#000"/><circle cx="76.6" cy="124.1" r="2.1" fill="#000"/><circle cx="76.6" cy="126.5" r="2.1" fill="#000"/><circle cx="80.5" cy="146.3" r="2.1" fill="#000"/><circle cx="88.3" cy="134.4" r="2.1" fill="#000"/><circle cx="88.3" cy="137.6" r="2.1" fill="#000"/><circle cx="88.3" cy="140.5" r="2.1" fill="#000"/><circle cx="92.3" cy="129.9" r="2.1" fill="#000"/><circle cx="92.3" cy="132.8" r="2.1" fill="#000"/><circle cx="92.3" cy="135.7" r="2.1" fill="#000"/><circle cx="95.8" cy="129.7" r="2.1" fill="#a9a9a9"/><circle cx="96.5" cy="132.9" r="2.1" fill="#a9a9a9"/><circle cx="100" cy="138.6" r="2.1" fill="#a9a9a9"/><circle cx="102.5" cy="125.2" r="2.1" fill="#a9a9a9"/><circle cx="105.7" cy="129.8" r="2.1" fill="#a9a9a9"/><circle cx="111.1" cy="132.9" r="2.1" fill="#a9a9a9"/><circle cx="113.8" cy="134" r="2.1" fill="#a9a9a9"/><circle cx="117.3" cy="131.7" r="2.1" fill="#a9a9a9"/><circle cx="120.3" cy="120.8" r="2.1" fill="#a9a9a9"/><circle cx="120.3" cy="124.7" r="2.1" fill="#a9a9a9"/><circle cx="120.3" cy="127.8" r="2.1" fill="#a9a9a9"/><circle cx="120.3" cy="131" r="2.1" fill="#a9a9a9"/><circle cx="126.6" cy="131.7" r="2.1" fill="#a9a9a9"/><circle cx="127" cy="130.9" r="2.1" fill="#a9a9a9"/><circle cx="128.9" cy="125.9" r="2.1" fill="#a9a9a9"/><circle cx="130" cy="129.4" r="2.1" fill="#a9a9a9"/><circle cx="131.7" cy="125.1" r="2.1" fill="#a9a9a9"/><circle cx="131.7" cy="128.6" r="2.1" fill="#a9a9a9"/><circle cx="131.7" cy="132" r="2.1" fill="#a9a9a9"/><circle cx="131.9" cy="103.4" r="2.1" fill="#a9a9a9"/><circle cx="131.9" cy="106.7" r="2.1" fill="#a9a9a9"/><circle cx="131.9" cy="109.7" r="2.1" fill="#a9a9a9"/><circle cx="142.8" cy="122.9" r="2.1" fill="#a9a9a9"/><circle cx="142.8" cy="127" r="2.1" fill="#a9a9a9"/><circle cx="143.7" cy="127.4" r="2.1" fill="#a9a9a9"/><circle cx="146.3" cy="130.5" r="2.1" fill="#a9a9a9"/><circle cx="147.4" cy="109.7" r="2.1" fill="#a9a9a9"/><circle cx="147.4" cy="124.3" r="2.1" fill="#a9a9a9"/><circle cx="150.8" cy="133.2" r="2.1" fill="#000"/><circle cx="153.1" cy="137.9" r="2.1" fill="#000"/><circle cx="156.1" cy="124.7" r="2.1" fill="#000"/><circle cx="156.1" cy="128.6" r="2.1" fill="#000"/><circle cx="156.1" cy="131.5" r="2.1" fill="#000"/><circle cx="156.1" cy="134.4" r="2.1" fill="#000"/><circle cx="160" cy="111.7" r="2.1" fill="#000"/><circle cx="160" cy="115.4" r="2.1" fill="#000"/><circle cx="160" cy="119.3" r="2.1" fill="#000"/><circle cx="160" cy="122.8" r="2.1" fill="#000"/><circle cx="160" cy="127.4" r="2.1" fill="#000"/><circle cx="160" cy="130.9" r="2.1" fill="#000"/><circle cx="160" cy="134" r="2.1" fill="#000"/><circle cx="162.4" cy="124.7" r="2.1" fill="#000"/><circle cx="165.8" cy="144.8" r="2.1" fill="#000"/><circle cx="167" cy="131.6" r="2.1" fill="#000"/><circle cx="168.2" cy="142.5" r="2.1" fill="#000"/><circle cx="171.6" cy="141.3" r="2.1" fill="#000"/><circle cx="180.2" cy="122.3" r="2.1" fill="#000"/><circle cx="180.2" cy="124.7" r="2.1" fill="#000"/><circle cx="180.2" cy="129.3" r="2.1" fill="#000"/><circle cx="180.2" cy="135.5" r="2.1" fill="#000"/><circle cx="185.5" cy="143.6" r="2.1" fill="#000"/><circle cx="187.9" cy="139" r="2.1" fill="#000"/><circle cx="191.2" cy="113.1" r="2.1" fill="#000"/><circle cx="191.2" cy="116.3" r="2.1" fill="#000"/><circle cx="191.2" cy="120" r="2.1" fill="#000"/><circle cx="191.2" cy="124" r="2.1" fill="#000"/><circle cx="191.2" cy="127.4" r="2.1" fill="#000"/><circle cx="191.2" cy="132" r="2.1" fill="#000"/><circle cx="191.2" cy="136.7" r="2.1" fill="#000"/><circle cx="194.8" cy="134.4" r="2.1" fill="#a9a9a9"/><circle cx="195.8" cy="132" r="2.1" fill="#a9a9a9"/><circle cx="197" cy="118.2" r="2.1" fill="#a9a9a9"/><circle cx="199.4" cy="136.2" r="2.1" fill="#a9a9a9"/><circle cx="199.5" cy="121" r="2.1" fill="#a9a9a9"/><circle cx="199.7" cy="117" r="2.1" fill="#a9a9a9"/><circle cx="200.4" cy="135.5" r="2.1" fill="#a9a9a9"/><circle cx="200.6" cy="124" r="2.1" fill="#a9a9a9"/><circle cx="202.9" cy="133.2" r="2.1" fill="#a9a9a9"/><circle cx="205" cy="134.8" r="2.1" fill="#a9a9a9"/><circle cx="206.2" cy="140.2" r="2.1" fill="#a9a9a9"/><circle cx="213.2" cy="140.2" r="2.1" fill="#a9a9a9"/><circle cx="217.8" cy="135.5" r="2.1" fill="#a9a9a9"/><circle cx="219" cy="132" r="2.1" fill="#a9a9a9"/><circle cx="221.3" cy="119.3" r="2.1" fill="#a9a9a9"/><circle cx="221.3" cy="122" r="2.1" fill="#a9a9a9"/><circle cx="221.3" cy="124.5" r="2.1" fill="#a9a9a9"/><circle cx="221.3" cy="127" r="2.1" fill="#a9a9a9"/><circle cx="221.3" cy="130" r="2.1" fill="#a9a9a9"/><circle cx="231.7" cy="135.5" r="2.1" fill="#a9a9a9"/><circle cx="232.9" cy="130.9" r="2.1" fill="#a9a9a9"/><circle cx="235.2" cy="127.4" r="2.1" fill="#a9a9a9"/><circle cx="236" cy="119.3" r="2.1" fill="#a9a9a9"/><circle cx="240.8" cy="124.7" r="2.1" fill="#000"/><circle cx="240.8" cy="127.8" r="2.1" fill="#000"/><circle cx="240.8" cy="130.9" r="2.1" fill="#000"/><circle cx="242" cy="135.5" r="2.1" fill="#000"/><circle cx="248.9" cy="144.8" r="2.1" fill="#000"/><circle cx="252.4" cy="135.5" r="2.1" fill="#000"/><circle cx="252.4" cy="139" r="2.1" fill="#000"/><circle cx="253.1" cy="124" r="2.1" fill="#000"/><circle cx="254.7" cy="121.6" r="2.1" fill="#000"/><circle cx="254.7" cy="144.8" r="2.1" fill="#000"/><circle cx="261.6" cy="134.8" r="2.1" fill="#000"/><circle cx="261.6" cy="148.3" r="2.1" fill="#000"/><circle cx="265.1" cy="149.4" r="2.1" fill="#000"/><circle cx="270.9" cy="132" r="2.1" fill="#000"/><circle cx="271" cy="135" r="2.1" fill="#000"/><circle cx="272.5" cy="120.5" r="2.1" fill="#000"/><circle cx="272.5" cy="124" r="2.1" fill="#000"/><circle cx="272.5" cy="127.4" r="2.1" fill="#000"/><circle cx="277.9" cy="107.7" r="2.1" fill="#a9a9a9"/><circle cx="277.9" cy="111.2" r="2.1" fill="#a9a9a9"/><circle cx="277.9" cy="115" r="2.1" fill="#a9a9a9"/><circle cx="277.9" cy="119.3" r="2.1" fill="#a9a9a9"/><circle cx="279" cy="124" r="2.1" fill="#a9a9a9"/><circle cx="281.2" cy="127.4" r="2.1" fill="#a9a9a9"/><circle cx="284.8" cy="127.4" r="2.1" fill="#a9a9a9"/><circle cx="284.8" cy="132" r="2.1" fill="#a9a9a9"/><circle cx="285.8" cy="130.9" r="2.1" fill="#a9a9a9"/><circle cx="286.4" cy="118.2" r="2.1" fill="#a9a9a9"/><circle cx="292.9" cy="124.7" r="2.1" fill="#a9a9a9"/><circle cx="292.9" cy="137.9" r="2.1" fill="#a9a9a9"/><circle cx="292.9" cy="143.6" r="2.1" fill="#a9a9a9"/><circle cx="293.9" cy="124.7" r="2.1" fill="#a9a9a9"/><circle cx="298.5" cy="132.1" r="2.1" fill="#a9a9a9"/><circle cx="298.5" cy="135.5" r="2.1" fill="#a9a9a9"/><circle cx="310.1" cy="132.1" r="2.1" fill="#a9a9a9"/><circle cx="310.1" cy="135.5" r="2.1" fill="#a9a9a9"/><circle cx="314.7" cy="128.6" r="2.1" fill="#000"/><circle cx="315.9" cy="135.5" r="2.1" fill="#000"/><circle cx="318.2" cy="129.7" r="2.1" fill="#000"/><circle cx="320.1" cy="88.9" r="2.1" fill="#000"/><circle cx="320.1" cy="118.3" r="2.1" fill="#000"/><circle cx="320.5" cy="124.7" r="2.1" fill="#000"/><circle cx="320.5" cy="137.9" r="2.1" fill="#000"/><circle cx="324.9" cy="38.7" r="2.1" fill="#000"/><circle cx="324.9" cy="52.8" r="2.1" fill="#000"/><circle cx="324.9" cy="55.7" r="2.1" fill="#000"/><circle cx="324.9" cy="60.5" r="2.1" fill="#000"/><circle cx="324.9" cy="62.8" r="2.1" fill="#000"/><circle cx="324.9" cy="72.2" r="2.1" fill="#000"/><circle cx="324.9" cy="81.6" r="2.1" fill="#000"/><circle cx="324.9" cy="111.5" r="2.1" fill="#000"/><circle cx="324.9" cy="114" r="2.1" fill="#000"/><circle cx="333" cy="115.4" r="2.1" fill="#000"/><circle cx="333.3" cy="124" r="2.1" fill="#000"/><circle cx="333.3" cy="133.2" r="2.1" fill="#000"/><circle cx="335.5" cy="73.2" r="2.1" fill="#000"/><circle cx="335.5" cy="76.8" r="2.1" fill="#000"/><circle cx="335.5" cy="82.5" r="2.1" fill="#000"/><circle cx="335.5" cy="85.4" r="2.1" fill="#000"/><circle cx="335.5" cy="88.3" r="2.1" fill="#000"/><circle cx="335.5" cy="90.3" r="2.1" fill="#000"/><circle cx="335.5" cy="94.7" r="2.1" fill="#000"/><circle cx="335.5" cy="97" r="2.1" fill="#000"/><circle cx="335.9" cy="114.4" r="2.1" fill="#000"/><circle cx="336.8" cy="135.5" r="2.1" fill="#000"/><circle cx="338.1" cy="144.8" r="2.1" fill="#000"/><circle cx="340.4" cy="140.2" r="2.1" fill="#000"/><circle cx="346.2" cy="144.8" r="2.1" fill="#000"/><circle cx="354.3" cy="116.6" r="2.1" fill="#a9a9a9"/><circle cx="354.3" cy="127.5" r="2.1" fill="#a9a9a9"/><circle cx="354.3" cy="131" r="2.1" fill="#a9a9a9"/><circle cx="355" cy="122.8" r="2.1" fill="#a9a9a9"/><circle cx="360.8" cy="112.4" r="2.1" fill="#a9a9a9"/><circle cx="360.8" cy="115.8" r="2.1" fill="#a9a9a9"/><circle cx="360.8" cy="119.3" r="2.1" fill="#a9a9a9"/><circle cx="360.8" cy="122.8" r="2.1" fill="#a9a9a9"/><circle cx="360.8" cy="126" r="2.1" fill="#a9a9a9"/><circle cx="360.8" cy="129" r="2.1" fill="#a9a9a9"/><circle cx="364.3" cy="127.4" r="2.1" fill="#a9a9a9"/><circle cx="365.9" cy="112.4" r="2.1" fill="#a9a9a9"/><circle cx="365.9" cy="118.2" r="2.1" fill="#a9a9a9"/><circle cx="367" cy="120.5" r="2.1" fill="#a9a9a9"/><circle cx="372.9" cy="122.3" r="2.1" fill="#a9a9a9"/><circle cx="372.9" cy="125.5" r="2.1" fill="#a9a9a9"/><circle cx="372.9" cy="129" r="2.1" fill="#a9a9a9"/><circle cx="372.9" cy="132.5" r="2.1" fill="#a9a9a9"/><circle cx="373.5" cy="103.8" r="2.1" fill="#a9a9a9"/><circle cx="379.8" cy="137.9" r="2.1" fill="#a9a9a9"/><circle cx="381.2" cy="136.8" r="2.1" fill="#a9a9a9"/><circle cx="383.7" cy="133.2" r="2.1" fill="#000"/><circle cx="385.1" cy="130.5" r="2.1" fill="#000"/><circle cx="385.8" cy="98.1" r="2.1" fill="#000"/><circle cx="385.8" cy="109.7" r="2.1" fill="#000"/><circle cx="385.8" cy="118.2" r="2.1" fill="#000"/><circle cx="385.8" cy="120.5" r="2.1" fill="#000"/><circle cx="385.8" cy="124.5" r="2.1" fill="#000"/><circle cx="385.8" cy="134" r="2.1" fill="#000"/><circle cx="385.8" cy="137.9" r="2.1" fill="#000"/><circle cx="400.6" cy="135.1" r="2.1" fill="#000"/><circle cx="402" cy="122.9" r="2.1" fill="#000"/><circle cx="402" cy="125.2" r="2.1" fill="#000"/><circle cx="402" cy="130.5" r="2.1" fill="#000"/><circle cx="404.7" cy="137.9" r="2.1" fill="#000"/><circle cx="407.1" cy="133.7" r="2.1" fill="#000"/><circle cx="408.5" cy="134.3" r="2.1" fill="#000"/><circle cx="409.8" cy="132.8" r="2.1" fill="#000"/><circle cx="410.1" cy="132.4" r="2.1" fill="#000"/><circle cx="411" cy="117.8" r="2.1" fill="#000"/><circle cx="416.6" cy="124.3" r="2.1" fill="#a9a9a9"/><circle cx="417.5" cy="125.2" r="2.1" fill="#a9a9a9"/><circle cx="418.4" cy="111.6" r="2.1" fill="#a9a9a9"/><circle cx="418.4" cy="117.4" r="2.1" fill="#a9a9a9"/><circle cx="418.4" cy="128" r="2.1" fill="#a9a9a9"/><circle cx="418.9" cy="121.3" r="2.1" fill="#a9a9a9"/><circle cx="426.8" cy="137.9" r="2.1" fill="#a9a9a9"/><circle cx="427" cy="139.4" r="2.1" fill="#a9a9a9"/><circle cx="429.3" cy="129" r="2.1" fill="#a9a9a9"/><circle cx="435.1" cy="124.3" r="2.1" fill="#a9a9a9"/><circle cx="435.1" cy="127.5" r="2.1" fill="#a9a9a9"/><circle cx="435.1" cy="131.3" r="2.1" fill="#a9a9a9"/><circle cx="443.9" cy="112.7" r="2.1" fill="#a9a9a9"/><circle cx="443.9" cy="125.5" r="2.1" fill="#a9a9a9"/><circle cx="443.9" cy="130.1" r="2.1" fill="#a9a9a9"/><circle cx="445.2" cy="117.4" r="2.1" fill="#a9a9a9"/><circle cx="446.2" cy="144" r="2.1" fill="#000"/><circle cx="451.2" cy="141.7" r="2.1" fill="#000"/><circle cx="452.5" cy="142.9" r="2.1" fill="#000"/><circle cx="453.5" cy="134.3" r="2.1" fill="#000"/><circle cx="455.1" cy="122" r="2.1" fill="#000"/><circle cx="455.1" cy="127.8" r="2.1" fill="#000"/><circle cx="455.1" cy="137.1" r="2.1" fill="#000"/><circle cx="455.8" cy="130.1" r="2.1" fill="#000"/><circle cx="459.3" cy="144" r="2.1" fill="#000"/><circle cx="460.6" cy="144" r="2.1" fill="#000"/><circle cx="463.9" cy="148.6" r="2.1" fill="#000"/><circle cx="469.7" cy="114.4" r="2.1" fill="#000"/><circle cx="469.7" cy="118.1" r="2.1" fill="#000"/><circle cx="469.7" cy="122" r="2.1" fill="#000"/><circle cx="469.7" cy="126" r="2.1" fill="#000"/><circle cx="469.7" cy="130.1" r="2.1" fill="#000"/><circle cx="473" cy="132.4" r="2.1" fill="#000"/><circle cx="477.3" cy="122.7" r="2.1" fill="#a9a9a9"/><circle cx="477.3" cy="126" r="2.1" fill="#a9a9a9"/><circle cx="477.3" cy="129" r="2.1" fill="#a9a9a9"/><circle cx="477.3" cy="132" r="2.1" fill="#a9a9a9"/><circle cx="483.6" cy="123.9" r="2.1" fill="#a9a9a9"/><circle cx="483.6" cy="127" r="2.1" fill="#a9a9a9"/><circle cx="483.6" cy="130.1" r="2.1" fill="#a9a9a9"/><circle cx="483.6" cy="133" r="2.1" fill="#a9a9a9"/><circle cx="490.5" cy="135.2" r="2.1" fill="#a9a9a9"/><circle cx="492.9" cy="130.8" r="2.1" fill="#a9a9a9"/><circle cx="497.5" cy="140.5" r="2.1" fill="#a9a9a9"/><circle cx="503.5" cy="138" r="2.1" fill="#a9a9a9"/><circle cx="504.4" cy="138.2" r="2.1" fill="#a9a9a9"/><circle cx="507.4" cy="143.5" r="2.1" fill="#a9a9a9"/><circle cx="509.5" cy="120.8" r="2.1" fill="#000"/><circle cx="510.4" cy="118.2" r="2.1" fill="#000"/><circle cx="511.1" cy="123.5" r="2.1" fill="#000"/><circle cx="511.1" cy="129.8" r="2.1" fill="#000"/><circle cx="511.1" cy="134.4" r="2.1" fill="#000"/><circle cx="514.4" cy="86.5" r="2.1" fill="#000"/><circle cx="515.1" cy="117.1" r="2.1" fill="#000"/><circle cx="516.2" cy="137.4" r="2.1" fill="#000"/><circle cx="517.4" cy="118.9" r="2.1" fill="#000"/><circle cx="517.4" cy="125.2" r="2.1" fill="#000"/><circle cx="517.4" cy="129.8" r="2.1" fill="#000"/><circle cx="517.4" cy="130.4" r="2.1" fill="#000"/><circle cx="517.4" cy="136.8" r="2.1" fill="#000"/><circle cx="523.2" cy="144.3" r="2.1" fill="#000"/><circle cx="526.6" cy="137.9" r="2.1" fill="#000"/><circle cx="527.8" cy="138.5" r="2.1" fill="#000"/><circle cx="529" cy="135.6" r="2.1" fill="#000"/><circle cx="530.1" cy="129.8" r="2.1" fill="#000"/><circle cx="530.1" cy="130.4" r="2.1" fill="#000"/><circle cx="530.1" cy="146.6" r="2.1" fill="#000"/><circle cx="530.8" cy="96.7" r="2.1" fill="#000"/><circle cx="530.8" cy="119.8" r="2.1" fill="#000"/><circle cx="537.1" cy="135.6" r="2.1" fill="#a9a9a9"/><circle cx="537.1" cy="136.2" r="2.1" fill="#a9a9a9"/><circle cx="539.4" cy="129.1" r="2.1" fill="#a9a9a9"/><circle cx="541.7" cy="143.2" r="2.1" fill="#a9a9a9"/><circle cx="547.5" cy="129.1" r="2.1" fill="#a9a9a9"/><circle cx="547.5" cy="132.7" r="2.1" fill="#a9a9a9"/><circle cx="547.5" cy="135.6" r="2.1" fill="#a9a9a9"/><circle cx="547.6" cy="116.5" r="2.1" fill="#a9a9a9"/><circle cx="548.5" cy="125" r="2.1" fill="#a9a9a9"/><circle cx="548.6" cy="113.6" r="2.1" fill="#a9a9a9"/><circle cx="549" cy="121" r="2.1" fill="#a9a9a9"/><circle cx="549.8" cy="115.9" r="2.1" fill="#a9a9a9"/><circle cx="549.8" cy="118.2" r="2.1" fill="#a9a9a9"/><circle cx="550.6" cy="114.2" r="2.1" fill="#a9a9a9"/><circle cx="553.3" cy="136.8" r="2.1" fill="#a9a9a9"/><circle cx="559.5" cy="136.8" r="2.1" fill="#000"/><circle cx="559.5" cy="143.2" r="2.1" fill="#000"/><circle cx="560.8" cy="137.9" r="2.1" fill="#000"/><circle cx="565.4" cy="123.5" r="2.1" fill="#000"/><circle cx="565.4" cy="130.9" r="2.1" fill="#000"/><circle cx="568.9" cy="129.7" r="2.1" fill="#000"/><circle cx="573.5" cy="127.4" r="2.1" fill="#000"/><circle cx="575.8" cy="119.3" r="2.1" fill="#000"/><circle cx="575.8" cy="122" r="2.1" fill="#000"/><circle cx="576.6" cy="117" r="2.1" fill="#000"/><circle cx="576.6" cy="125.1" r="2.1" fill="#000"/><circle cx="582.8" cy="141.3" r="2.1" fill="#a9a9a9"/><circle cx="586.3" cy="136.2" r="2.1" fill="#a9a9a9"/><circle cx="589.7" cy="136.2" r="2.1" fill="#a9a9a9"/><circle cx="590.9" cy="143.6" r="2.1" fill="#a9a9a9"/><circle cx="592.1" cy="127.4" r="2.1" fill="#a9a9a9"/><circle cx="596.6" cy="137" r="2.1" fill="#a9a9a9"/><circle cx="596.6" cy="140" r="2.1" fill="#a9a9a9"/><circle cx="596.6" cy="144" r="2.1" fill="#a9a9a9"/><circle cx="598.9" cy="83.1" r="2.1" fill="#a9a9a9"/><circle cx="598.9" cy="98.6" r="2.1" fill="#a9a9a9"/><circle cx="598.9" cy="102.8" r="2.1" fill="#a9a9a9"/><circle cx="598.9" cy="104.7" r="2.1" fill="#a9a9a9"/><circle cx="598.9" cy="114.8" r="2.1" fill="#000"/><circle cx="598.9" cy="123.1" r="2.1" fill="#000"/><circle cx="598.9" cy="126.4" r="2.1" fill="#000"/><circle cx="598.9" cy="129.3" r="2.1" fill="#000"/><circle cx="598.9" cy="139.9" r="2.1" fill="#000"/><circle cx="599" cy="132.5" r="2.1" fill="#000"/><circle cx="599" cy="135.5" r="2.1" fill="#000"/><circle cx="602.4" cy="141.9" r="2.1" fill="#000"/><circle cx="603.9" cy="134.1" r="2.1" fill="#000"/><circle cx="609.7" cy="144.7" r="2.1" fill="#000"/><circle cx="611.1" cy="139" r="2.1" fill="#000"/><circle cx="617.8" cy="130.3" r="2.1" fill="#a9a9a9"/><circle cx="618.8" cy="135.1" r="2.1" fill="#a9a9a9"/><circle cx="622.5" cy="111.3" r="2.1" fill="#a9a9a9"/><circle cx="622.6" cy="122.5" r="2.1" fill="#a9a9a9"/><circle cx="622.6" cy="125.4" r="2.1" fill="#a9a9a9"/><circle cx="622.6" cy="128.5" r="2.1" fill="#a9a9a9"/><circle cx="622.6" cy="131.5" r="2.1" fill="#a9a9a9"/><circle cx="625.4" cy="136.7" r="2.1" fill="#a9a9a9"/><circle cx="632.4" cy="117.7" r="2.1" fill="#a9a9a9"/><circle cx="635.4" cy="110.6" r="2.1" fill="#000"/><circle cx="635.4" cy="113" r="2.1" fill="#000"/><circle cx="635.4" cy="122.8" r="2.1" fill="#000"/><circle cx="635.4" cy="126" r="2.1" fill="#000"/><circle cx="641.6" cy="122" r="2.1" fill="#000"/><circle cx="641.6" cy="130.9" r="2.1" fill="#000"/><circle cx="641.6" cy="133.2" r="2.1" fill="#000"/><circle cx="642.8" cy="141.3" r="2.1" fill="#000"/><circle cx="647" cy="113.1" r="2.1" fill="#000"/><circle cx="647" cy="117.8" r="2.1" fill="#000"/><circle cx="647" cy="128" r="2.1" fill="#000"/><circle cx="647" cy="130.5" r="2.1" fill="#000"/><circle cx="648" cy="127.4" r="2.1" fill="#a9a9a9"/><circle cx="648.9" cy="138.6" r="2.1" fill="#a9a9a9"/><circle cx="649.3" cy="133.2" r="2.1" fill="#a9a9a9"/><circle cx="657.9" cy="137.8" r="2.1" fill="#a9a9a9"/><circle cx="658.5" cy="115.8" r="2.1" fill="#a9a9a9"/><circle cx="659.5" cy="132.4" r="2.1" fill="#a9a9a9"/><circle cx="660.2" cy="124" r="2.1" fill="#a9a9a9"/><circle cx="664.9" cy="144.4" r="2.1" fill="#000"/><circle cx="666" cy="140.2" r="2.1" fill="#000"/><circle cx="670.6" cy="141.3" r="2.1" fill="#000"/><circle cx="676.5" cy="143.4" r="2.1" fill="#a9a9a9"/><circle cx="677.5" cy="129.9" r="2.1" fill="#a9a9a9"/><circle cx="677.5" cy="131.9" r="2.1" fill="#a9a9a9"/><circle cx="682.3" cy="140.5" r="2.1" fill="#a9a9a9"/><circle cx="683.3" cy="127" r="2.1" fill="#a9a9a9"/></g>
<line x1="35" y1="0.5" x2="685" y2="0.5" stroke="#727272" stroke-width="1"/>
<line x1="684.5" y1="0" x2="684.5" y2="227" stroke="#777" stroke-width="1"/>
<line x1="39.5" y1="0" x2="39.5" y2="227" stroke="#505050" stroke-width="1"/>
<line x1="34.5" y1="226.67" x2="684" y2="226.67" stroke="#000" stroke-width="1"/>
<line x1="34.5" y1="46" x2="39" y2="46" stroke="#333" stroke-width="1"/>
<line x1="34.5" y1="91.17" x2="39" y2="91.17" stroke="#333" stroke-width="1"/>
<line x1="34.5" y1="136.33" x2="39" y2="136.33" stroke="#333" stroke-width="1"/>
<line x1="34.5" y1="181.5" x2="39" y2="181.5" stroke="#333" stroke-width="1"/>
</svg>
<div class="yl" style="top:41px">8</div>
<div class="yl" style="top:86px">6</div>
<div class="yl" style="top:131px">4</div>
<div class="yl" style="top:176px">2</div>
<div class="xl" style="left:47.5px">1</div><div class="xl" style="left:102.5px">2</div><div class="xl" style="left:151.7px">3</div><div class="xl" style="left:195px">4</div><div class="xl" style="left:236.8px">5</div><div class="xl" style="left:276.2px">6</div><div class="xl" style="left:313.2px">7</div><div class="xl" style="left:347px">8</div><div class="xl" style="left:379.7px">9</div><div class="xl" style="left:410.7px">10</div><div class="xl" style="left:440.9px">11</div><div class="xl" style="left:471.3px">12</div><div class="xl" style="left:501px">13</div><div class="xl" style="left:526.2px">14</div><div class="xl" style="left:550px">15</div><div class="xl" style="left:569px">16</div><div class="xl" style="left:588px">17</div><div class="xl" style="left:606px">18</div><div class="xl" style="left:621.4px">19</div><div class="xl" style="left:634.8px">20</div><div class="xl" style="left:648px">21</div><div class="xl" style="left:660px">22</div>
<div class="xt">Chromosome</div>
<svg width="20" height="259" style="position:absolute;left:0;top:0">
<g fill="#000" font-family="Liberation Sans" transform="rotate(-90)">
<rect x="-150.7" y="6" width="5.1" height="0.9"/>
<text x="-143.8" y="8.9" font-size="9.6" textLength="12" lengthAdjust="spacingAndGlyphs">log</text>
<text x="-130.6" y="10.6" font-size="7" stroke="#000" stroke-width="0.1">10</text>
<text transform="translate(-123.6,9.6) scale(1.25,1)" font-size="12.5">(</text>
<text x="-118.9" y="8.9" font-size="9.6">p</text>
<rect x="-110.6" y="6" width="5.3" height="0.9"/>
<text x="-102.3" y="8.9" font-size="9.6" textLength="20.3" lengthAdjust="spacingAndGlyphs">value</text>
<text transform="translate(-83.2,9.6) scale(1.7,1)" font-size="12.5">)</text>
</g></svg>
</body></html>
